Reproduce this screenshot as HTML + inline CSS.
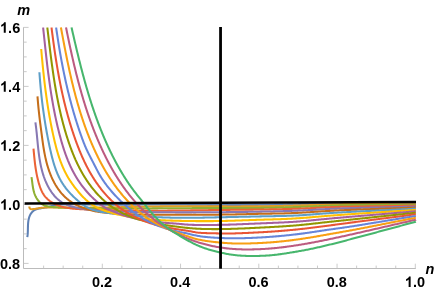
<!DOCTYPE html>
<html><head><meta charset="utf-8"><title>plot</title>
<style>
html,body{margin:0;padding:0;background:#fff;}
body{width:436px;height:292px;position:relative;overflow:hidden;font-family:"Liberation Sans",sans-serif;color:#000;}
</style></head><body>
<svg width="436" height="292" viewBox="0 0 436 292" style="position:absolute;left:0;top:0"><defs><clipPath id="c"><rect x="20" y="27.2" width="400" height="241.3"/></clipPath></defs><g stroke="#bbbbbb" stroke-width="1" fill="none" shape-rendering="auto"><path d="M23.5,27.3V268.5H415.8"/><path stroke-width="0.85" stroke="#c2c2c2" d="M43.61,268.5v-2.9M63.17,268.5v-2.9M82.74,268.5v-2.9M102.30,268.5v-4.8M121.86,268.5v-2.9M141.43,268.5v-2.9M160.99,268.5v-2.9M180.55,268.5v-4.8M200.11,268.5v-2.9M219.68,268.5v-2.9M239.24,268.5v-2.9M258.80,268.5v-4.8M278.36,268.5v-2.9M297.93,268.5v-2.9M317.49,268.5v-2.9M337.05,268.5v-4.8M356.61,268.5v-2.9M376.18,268.5v-2.9M395.74,268.5v-2.9M415.30,268.5v-4.8M23.5,263.40h5.1M23.5,248.65h3.1999999999999997M23.5,233.90h3.1999999999999997M23.5,219.15h3.1999999999999997M23.5,204.40h5.1M23.5,189.65h3.1999999999999997M23.5,174.90h3.1999999999999997M23.5,160.15h3.1999999999999997M23.5,145.40h5.1M23.5,130.65h3.1999999999999997M23.5,115.90h3.1999999999999997M23.5,101.15h3.1999999999999997M23.5,86.40h5.1M23.5,71.65h3.1999999999999997M23.5,56.90h3.1999999999999997M23.5,42.15h3.1999999999999997M23.5,27.40h5.1"/></g><g fill="none" stroke-width="2.05" stroke-linejoin="round" stroke-linecap="butt" clip-path="url(#c)"><path stroke="#5E81B5" d="M27.30,237.10 L27.47,236.11 L27.59,235.12 L27.69,234.13 L27.76,233.13 L27.81,232.13 L27.84,231.13 L27.87,230.13 L27.89,229.13 L27.91,228.13 L27.93,227.13 L27.96,226.13 L28.00,225.13 L28.05,224.13 L28.12,223.14 L28.22,222.14 L28.34,221.15 L28.49,220.16 L28.68,219.18 L28.92,218.21 L29.20,217.25 L29.53,216.31 L29.93,215.39 L30.38,214.50 L30.90,213.64 L31.48,212.83 L32.12,212.06 L32.83,211.35 L33.60,210.72 L34.43,210.16 L35.31,209.70 L36.24,209.32 L37.19,209.01 L38.16,208.76 L39.14,208.55 L40.12,208.38 L41.11,208.23 L42.10,208.08 L43.09,207.94 L44.08,207.78 L45.06,207.60 L46.04,207.40 L47.01,207.17 L47.98,206.93 L48.95,206.69 L49.92,206.44 L50.89,206.20 L51.87,205.97 L52.84,205.75 L53.82,205.56 L54.81,205.38 L55.79,205.22 L56.78,205.07 L57.77,204.94 L58.77,204.82 L59.76,204.71 L60.76,204.62 L61.75,204.54 L62.75,204.47 L63.75,204.41 L64.75,204.36 L65.75,204.32 L66.75,204.28 L67.75,204.26 L68.75,204.24 L69.75,204.23 L70.75,204.23 L71.75,204.22 L72.75,204.23 L73.75,204.24 L74.75,204.25 L75.75,204.26 L76.75,204.28 L77.75,204.30 L78.75,204.32 L79.75,204.33 L80.75,204.35 L81.74,204.37 L82.74,204.39 L83.74,204.41 L84.74,204.42 L85.74,204.44 L86.74,204.45 L87.74,204.47 L88.74,204.48 L89.74,204.50 L90.74,204.51 L91.74,204.52 L92.74,204.53 L93.74,204.55 L94.74,204.56 L95.74,204.57 L96.74,204.58 L97.74,204.59 L98.74,204.60 L99.74,204.61 L100.74,204.62 L101.74,204.62 L102.74,204.63 L103.74,204.64 L104.74,204.64 L105.74,204.65 L106.74,204.66 L107.74,204.66 L108.74,204.67 L109.74,204.67 L110.74,204.67 L111.74,204.68 L112.74,204.68 L113.74,204.68 L114.74,204.68 L115.74,204.69 L116.74,204.69 L117.74,204.69 L118.74,204.69 L119.74,204.69 L120.74,204.69 L121.74,204.69 L122.74,204.69 L123.74,204.68 L124.74,204.68 L125.74,204.68 L126.74,204.68 L127.74,204.67 L128.74,204.67 L129.74,204.66 L130.74,204.66 L131.74,204.65 L132.74,204.65 L133.74,204.64 L134.74,204.64 L135.74,204.63 L136.74,204.63 L137.74,204.62 L138.74,204.61 L139.74,204.61 L140.74,204.60 L141.74,204.59 L142.74,204.58 L143.74,204.58 L144.74,204.57 L145.74,204.56 L146.74,204.56 L147.74,204.55 L148.74,204.54 L149.74,204.54 L150.74,204.53 L151.74,204.52 L152.74,204.52 L153.74,204.51 L154.74,204.50 L155.74,204.50 L156.74,204.49 L157.74,204.49 L158.74,204.48 L159.74,204.48 L160.74,204.47 L161.74,204.47 L162.74,204.47 L163.74,204.47 L164.74,204.46 L165.74,204.46 L166.74,204.46 L167.74,204.46 L168.74,204.46 L169.74,204.46 L170.74,204.46 L171.74,204.47 L172.74,204.47 L173.74,204.47 L174.74,204.48 L175.74,204.48 L176.74,204.49 L177.74,204.50 L178.74,204.50 L179.74,204.51 L180.74,204.52 L181.74,204.53 L182.74,204.55 L183.74,204.56 L184.74,204.57 L185.74,204.58 L186.74,204.60 L187.74,204.61 L188.74,204.63 L189.74,204.64 L190.74,204.66 L191.74,204.67 L192.74,204.68 L193.74,204.70 L194.74,204.71 L195.74,204.72 L196.74,204.74 L197.74,204.75 L198.74,204.76 L199.74,204.77 L200.74,204.78 L201.74,204.80 L202.74,204.81 L203.74,204.82 L204.74,204.83 L205.74,204.84 L206.74,204.85 L207.74,204.86 L208.74,204.86 L209.74,204.87 L210.74,204.88 L211.74,204.89 L212.74,204.90 L213.74,204.90 L214.74,204.91 L215.74,204.92 L216.74,204.92 L217.74,204.93 L218.74,204.94 L219.74,204.94 L220.74,204.95 L221.74,204.95 L222.74,204.95 L223.74,204.96 L224.74,204.96 L225.74,204.97 L226.74,204.97 L227.74,204.97 L228.74,204.97 L229.74,204.97 L230.74,204.98 L231.74,204.98 L232.74,204.98 L233.74,204.98 L234.74,204.98 L235.74,204.98 L236.74,204.98 L237.74,204.97 L238.74,204.97 L239.74,204.97 L240.74,204.97 L241.74,204.97 L242.74,204.96 L243.74,204.96 L244.74,204.95 L245.74,204.95 L246.74,204.95 L247.74,204.94 L248.74,204.93 L249.74,204.93 L250.74,204.92 L251.74,204.91 L252.74,204.91 L253.74,204.90 L254.74,204.89 L255.74,204.88 L256.74,204.87 L257.74,204.86 L258.74,204.85 L259.74,204.84 L260.74,204.83 L261.74,204.82 L262.74,204.81 L263.74,204.80 L264.74,204.79 L265.74,204.77 L266.74,204.76 L267.74,204.75 L268.74,204.73 L269.74,204.72 L270.74,204.70 L271.74,204.69 L272.74,204.67 L273.74,204.65 L274.74,204.64 L275.74,204.62 L276.74,204.60 L277.74,204.58 L278.74,204.57 L279.74,204.55 L280.74,204.53 L281.74,204.51 L282.74,204.49 L283.74,204.47 L284.74,204.45 L285.74,204.43 L286.74,204.41 L287.74,204.39 L288.74,204.37 L289.73,204.35 L290.73,204.32 L291.73,204.30 L292.73,204.28 L293.73,204.26 L294.73,204.24 L295.73,204.21 L296.73,204.19 L297.73,204.17 L298.73,204.14 L299.73,204.12 L300.73,204.10 L301.73,204.07 L302.73,204.05 L303.73,204.03 L304.73,204.00 L305.73,203.98 L306.73,203.95 L307.73,203.93 L308.73,203.91 L309.73,203.88 L310.73,203.86 L311.73,203.83 L312.73,203.81 L313.73,203.78 L314.73,203.76 L315.73,203.74 L316.73,203.71 L317.73,203.69 L318.73,203.67 L319.73,203.64 L320.73,203.62 L321.73,203.60 L322.73,203.57 L323.73,203.55 L324.73,203.53 L325.73,203.51 L326.72,203.49 L327.72,203.47 L328.72,203.45 L329.72,203.43 L330.72,203.41 L331.72,203.39 L332.72,203.37 L333.72,203.35 L334.72,203.33 L335.72,203.32 L336.72,203.30 L337.72,203.29 L338.72,203.27 L339.72,203.26 L340.72,203.24 L341.72,203.23 L342.72,203.22 L343.72,203.21 L344.72,203.20 L345.72,203.19 L346.72,203.18 L347.72,203.17 L348.72,203.16 L349.72,203.16 L350.72,203.15 L351.72,203.15 L352.72,203.14 L353.72,203.14 L354.72,203.14 L355.72,203.14 L356.72,203.14 L357.72,203.14 L358.72,203.14 L359.72,203.15 L360.72,203.15 L361.72,203.15 L362.72,203.16 L363.72,203.17 L364.72,203.18 L365.72,203.18 L366.72,203.19 L367.72,203.20 L368.72,203.21 L369.72,203.23 L370.72,203.24 L371.72,203.25 L372.72,203.26 L373.72,203.27 L374.72,203.29 L375.72,203.30 L376.72,203.31 L377.72,203.32 L378.72,203.34 L379.72,203.35 L380.72,203.36 L381.72,203.37 L382.72,203.38 L383.72,203.39 L384.72,203.40 L385.72,203.41 L386.72,203.41 L387.72,203.42 L388.72,203.43 L389.72,203.43 L390.72,203.44 L391.72,203.45 L392.72,203.45 L393.72,203.46 L394.72,203.46 L395.72,203.47 L396.72,203.48 L397.72,203.48 L398.72,203.49 L399.72,203.49 L400.72,203.50 L401.72,203.50 L402.72,203.51 L403.72,203.52 L404.72,203.52 L405.72,203.53 L406.72,203.54 L407.72,203.54 L408.72,203.55 L409.72,203.56 L410.72,203.57 L411.72,203.58 L412.72,203.59 L413.72,203.60 L414.72,203.61 L415.72,203.62 L415.85,203.63"/><path stroke="#E19C24" d="M29.40,206.50 L29.40,207.49 L29.78,208.41 L30.55,209.02 L31.54,209.17 L32.54,209.13 L33.53,209.05 L34.53,208.93 L35.52,208.79 L36.50,208.62 L37.49,208.45 L38.47,208.27 L39.46,208.11 L40.45,207.96 L41.44,207.83 L42.43,207.73 L43.43,207.65 L44.43,207.60 L45.43,207.55 L46.43,207.53 L47.43,207.51 L48.43,207.51 L49.43,207.51 L50.43,207.52 L51.43,207.53 L52.43,207.54 L53.43,207.56 L54.43,207.57 L55.43,207.58 L56.43,207.59 L57.43,207.60 L58.43,207.61 L59.43,207.62 L60.43,207.63 L61.43,207.64 L62.43,207.65 L63.43,207.66 L64.43,207.67 L65.43,207.68 L66.43,207.69 L67.43,207.69 L68.43,207.70 L69.43,207.71 L70.43,207.71 L71.43,207.71 L72.43,207.72 L73.43,207.72 L74.43,207.72 L75.43,207.72 L76.43,207.72 L77.43,207.72 L78.43,207.72 L79.43,207.71 L80.43,207.71 L81.43,207.71 L82.43,207.70 L83.43,207.70 L84.43,207.69 L85.43,207.68 L86.43,207.68 L87.43,207.67 L88.43,207.66 L89.43,207.65 L90.43,207.64 L91.43,207.63 L92.43,207.62 L93.43,207.61 L94.43,207.60 L95.43,207.59 L96.43,207.57 L97.43,207.56 L98.43,207.55 L99.43,207.53 L100.43,207.52 L101.43,207.50 L102.43,207.49 L103.43,207.47 L104.43,207.46 L105.43,207.44 L106.43,207.42 L107.42,207.41 L108.42,207.39 L109.42,207.37 L110.42,207.35 L111.42,207.33 L112.42,207.32 L113.42,207.30 L114.42,207.28 L115.42,207.26 L116.42,207.24 L117.42,207.22 L118.42,207.20 L119.42,207.18 L120.42,207.16 L121.42,207.14 L122.42,207.12 L123.42,207.10 L124.42,207.08 L125.42,207.06 L126.42,207.04 L127.42,207.02 L128.42,206.99 L129.42,206.97 L130.42,206.95 L131.42,206.93 L132.42,206.91 L133.42,206.89 L134.42,206.87 L135.42,206.85 L136.42,206.83 L137.42,206.81 L138.42,206.79 L139.42,206.77 L140.42,206.75 L141.42,206.73 L142.42,206.71 L143.42,206.69 L144.42,206.67 L145.42,206.65 L146.42,206.63 L147.42,206.61 L148.42,206.59 L149.42,206.57 L150.42,206.55 L151.42,206.54 L152.42,206.52 L153.42,206.50 L154.42,206.48 L155.42,206.47 L156.42,206.45 L157.42,206.44 L158.42,206.42 L159.42,206.40 L160.42,206.39 L161.42,206.38 L162.41,206.36 L163.41,206.35 L164.41,206.34 L165.41,206.32 L166.41,206.31 L167.41,206.30 L168.41,206.29 L169.41,206.28 L170.41,206.27 L171.41,206.26 L172.41,206.25 L173.41,206.24 L174.41,206.24 L175.41,206.23 L176.41,206.22 L177.41,206.22 L178.41,206.21 L179.41,206.21 L180.41,206.21 L181.41,206.20 L182.41,206.20 L183.41,206.20 L184.41,206.20 L185.41,206.20 L186.41,206.20 L187.41,206.20 L188.41,206.20 L189.41,206.21 L190.41,206.21 L191.41,206.21 L192.41,206.22 L193.41,206.22 L194.41,206.23 L195.41,206.24 L196.41,206.24 L197.41,206.25 L198.41,206.26 L199.41,206.26 L200.41,206.27 L201.41,206.28 L202.41,206.28 L203.41,206.29 L204.41,206.29 L205.41,206.30 L206.41,206.31 L207.41,206.31 L208.41,206.32 L209.41,206.32 L210.41,206.33 L211.41,206.34 L212.41,206.34 L213.41,206.35 L214.41,206.35 L215.41,206.36 L216.41,206.36 L217.41,206.36 L218.41,206.37 L219.41,206.37 L220.41,206.38 L221.41,206.38 L222.41,206.38 L223.41,206.39 L224.41,206.39 L225.41,206.39 L226.41,206.39 L227.41,206.40 L228.41,206.40 L229.41,206.40 L230.41,206.40 L231.41,206.40 L232.41,206.40 L233.41,206.40 L234.41,206.40 L235.41,206.40 L236.41,206.40 L237.41,206.40 L238.41,206.40 L239.41,206.40 L240.41,206.40 L241.41,206.39 L242.41,206.39 L243.41,206.39 L244.41,206.38 L245.41,206.38 L246.41,206.38 L247.41,206.37 L248.41,206.37 L249.41,206.36 L250.41,206.35 L251.41,206.35 L252.41,206.34 L253.41,206.33 L254.41,206.33 L255.41,206.32 L256.41,206.31 L257.41,206.30 L258.41,206.29 L259.41,206.28 L260.41,206.27 L261.41,206.26 L262.41,206.25 L263.41,206.23 L264.41,206.22 L265.41,206.21 L266.41,206.20 L267.41,206.18 L268.41,206.17 L269.41,206.15 L270.41,206.14 L271.41,206.12 L272.41,206.10 L273.41,206.08 L274.41,206.07 L275.41,206.05 L276.41,206.03 L277.41,206.01 L278.41,205.99 L279.41,205.97 L280.41,205.94 L281.41,205.92 L282.41,205.90 L283.41,205.88 L284.41,205.85 L285.41,205.83 L286.41,205.80 L287.41,205.78 L288.41,205.75 L289.41,205.73 L290.41,205.70 L291.41,205.67 L292.41,205.65 L293.41,205.62 L294.41,205.59 L295.41,205.56 L296.41,205.53 L297.40,205.50 L298.40,205.47 L299.40,205.44 L300.40,205.41 L301.40,205.38 L302.40,205.35 L303.40,205.32 L304.40,205.29 L305.40,205.26 L306.40,205.22 L307.40,205.19 L308.40,205.16 L309.40,205.12 L310.40,205.09 L311.40,205.06 L312.40,205.02 L313.40,204.99 L314.40,204.96 L315.40,204.92 L316.39,204.89 L317.39,204.85 L318.39,204.82 L319.39,204.79 L320.39,204.75 L321.39,204.72 L322.39,204.69 L323.39,204.65 L324.39,204.62 L325.39,204.59 L326.39,204.56 L327.39,204.53 L328.39,204.50 L329.39,204.47 L330.39,204.44 L331.39,204.41 L332.39,204.38 L333.39,204.36 L334.39,204.33 L335.39,204.30 L336.39,204.28 L337.39,204.26 L338.38,204.24 L339.38,204.22 L340.38,204.20 L341.38,204.18 L342.38,204.16 L343.38,204.14 L344.38,204.13 L345.38,204.12 L346.38,204.11 L347.38,204.09 L348.38,204.09 L349.38,204.08 L350.38,204.07 L351.38,204.07 L352.38,204.06 L353.38,204.06 L354.38,204.06 L355.38,204.06 L356.38,204.05 L357.38,204.05 L358.38,204.06 L359.38,204.06 L360.38,204.06 L361.38,204.06 L362.38,204.06 L363.38,204.07 L364.38,204.07 L365.38,204.07 L366.38,204.08 L367.38,204.08 L368.38,204.08 L369.38,204.09 L370.38,204.09 L371.38,204.09 L372.38,204.10 L373.38,204.10 L374.38,204.10 L375.38,204.11 L376.38,204.11 L377.38,204.11 L378.38,204.12 L379.38,204.12 L380.38,204.12 L381.38,204.13 L382.38,204.13 L383.38,204.13 L384.38,204.13 L385.38,204.14 L386.38,204.14 L387.38,204.14 L388.38,204.14 L389.38,204.15 L390.38,204.15 L391.38,204.15 L392.38,204.15 L393.38,204.15 L394.38,204.16 L395.38,204.16 L396.38,204.16 L397.38,204.16 L398.38,204.16 L399.38,204.16 L400.38,204.17 L401.38,204.17 L402.38,204.17 L403.38,204.17 L404.38,204.17 L405.38,204.18 L406.38,204.18 L407.38,204.18 L408.38,204.18 L409.38,204.19 L410.38,204.19 L411.38,204.19 L412.38,204.19 L413.38,204.20 L414.38,204.20 L415.38,204.20 L415.85,204.20"/><path stroke="#8FB032" d="M31.50,177.10 L31.66,178.09 L31.81,179.08 L31.94,180.07 L32.07,181.06 L32.20,182.05 L32.33,183.04 L32.46,184.03 L32.59,185.02 L32.74,186.01 L32.89,187.00 L33.06,187.99 L33.25,188.97 L33.46,189.95 L33.69,190.92 L33.94,191.89 L34.23,192.85 L34.54,193.79 L34.89,194.73 L35.28,195.66 L35.70,196.56 L36.15,197.45 L36.65,198.32 L37.18,199.17 L37.75,199.99 L38.36,200.78 L39.00,201.55 L39.70,202.27 L40.43,202.94 L41.21,203.57 L42.04,204.13 L42.90,204.64 L43.79,205.09 L44.71,205.48 L45.65,205.82 L46.61,206.11 L47.58,206.35 L48.56,206.56 L49.55,206.72 L50.54,206.86 L51.53,206.97 L52.53,207.06 L53.52,207.14 L54.52,207.20 L55.52,207.25 L56.52,207.29 L57.52,207.33 L58.52,207.37 L59.52,207.41 L60.52,207.45 L61.51,207.49 L62.51,207.53 L63.51,207.57 L64.51,207.60 L65.51,207.64 L66.51,207.67 L67.51,207.71 L68.51,207.74 L69.51,207.77 L70.51,207.80 L71.51,207.83 L72.51,207.86 L73.51,207.89 L74.51,207.92 L75.51,207.94 L76.51,207.97 L77.51,208.00 L78.51,208.02 L79.51,208.05 L80.51,208.07 L81.51,208.09 L82.51,208.11 L83.51,208.13 L84.50,208.16 L85.50,208.18 L86.50,208.19 L87.50,208.21 L88.50,208.23 L89.50,208.25 L90.50,208.26 L91.50,208.28 L92.50,208.30 L93.50,208.31 L94.50,208.32 L95.50,208.34 L96.50,208.35 L97.50,208.36 L98.50,208.37 L99.50,208.39 L100.50,208.40 L101.50,208.41 L102.50,208.42 L103.50,208.42 L104.50,208.43 L105.50,208.44 L106.50,208.45 L107.50,208.45 L108.50,208.46 L109.50,208.47 L110.50,208.47 L111.50,208.48 L112.50,208.48 L113.50,208.49 L114.50,208.49 L115.50,208.49 L116.50,208.50 L117.50,208.50 L118.50,208.50 L119.50,208.50 L120.50,208.50 L121.50,208.50 L122.50,208.50 L123.50,208.50 L124.50,208.50 L125.50,208.50 L126.50,208.50 L127.50,208.50 L128.50,208.50 L129.50,208.50 L130.50,208.50 L131.50,208.49 L132.50,208.49 L133.50,208.49 L134.50,208.48 L135.50,208.48 L136.50,208.48 L137.50,208.47 L138.50,208.47 L139.50,208.46 L140.50,208.46 L141.50,208.45 L142.50,208.45 L143.50,208.44 L144.50,208.44 L145.50,208.43 L146.50,208.43 L147.50,208.42 L148.50,208.42 L149.50,208.41 L150.50,208.40 L151.50,208.40 L152.50,208.39 L153.50,208.38 L154.50,208.38 L155.50,208.37 L156.50,208.36 L157.50,208.36 L158.50,208.35 L159.50,208.34 L160.50,208.33 L161.50,208.33 L162.50,208.32 L163.50,208.31 L164.50,208.31 L165.50,208.30 L166.50,208.29 L167.50,208.28 L168.50,208.28 L169.50,208.27 L170.50,208.26 L171.50,208.26 L172.50,208.25 L173.50,208.24 L174.50,208.24 L175.50,208.23 L176.50,208.22 L177.50,208.22 L178.50,208.21 L179.50,208.21 L180.50,208.20 L181.50,208.19 L182.50,208.19 L183.50,208.18 L184.50,208.18 L185.50,208.17 L186.50,208.17 L187.50,208.16 L188.50,208.16 L189.50,208.15 L190.50,208.15 L191.50,208.15 L192.50,208.14 L193.50,208.14 L194.50,208.14 L195.50,208.13 L196.50,208.13 L197.50,208.13 L198.50,208.13 L199.50,208.13 L200.50,208.12 L201.50,208.12 L202.50,208.12 L203.50,208.12 L204.50,208.12 L205.50,208.12 L206.50,208.12 L207.50,208.12 L208.50,208.12 L209.50,208.12 L210.50,208.12 L211.50,208.12 L212.50,208.11 L213.50,208.11 L214.50,208.11 L215.50,208.11 L216.50,208.11 L217.50,208.11 L218.50,208.11 L219.50,208.11 L220.50,208.11 L221.50,208.11 L222.50,208.11 L223.50,208.11 L224.50,208.11 L225.50,208.11 L226.50,208.11 L227.50,208.11 L228.50,208.11 L229.50,208.11 L230.50,208.10 L231.50,208.10 L232.50,208.10 L233.50,208.10 L234.50,208.10 L235.50,208.09 L236.50,208.09 L237.50,208.09 L238.50,208.08 L239.50,208.08 L240.50,208.08 L241.50,208.07 L242.50,208.07 L243.50,208.06 L244.50,208.06 L245.50,208.05 L246.50,208.04 L247.50,208.04 L248.50,208.03 L249.50,208.02 L250.50,208.01 L251.50,208.01 L252.50,208.00 L253.50,207.99 L254.50,207.98 L255.50,207.97 L256.50,207.96 L257.50,207.95 L258.50,207.93 L259.50,207.92 L260.50,207.91 L261.50,207.89 L262.50,207.88 L263.50,207.87 L264.50,207.85 L265.50,207.83 L266.50,207.82 L267.50,207.80 L268.50,207.78 L269.50,207.76 L270.50,207.74 L271.50,207.72 L272.50,207.70 L273.50,207.68 L274.50,207.66 L275.50,207.64 L276.50,207.61 L277.50,207.59 L278.50,207.57 L279.50,207.54 L280.50,207.51 L281.50,207.49 L282.50,207.46 L283.50,207.43 L284.50,207.40 L285.49,207.38 L286.49,207.35 L287.49,207.32 L288.49,207.29 L289.49,207.25 L290.49,207.22 L291.49,207.19 L292.49,207.16 L293.49,207.13 L294.49,207.09 L295.49,207.06 L296.49,207.02 L297.49,206.99 L298.49,206.95 L299.49,206.92 L300.49,206.88 L301.49,206.84 L302.49,206.80 L303.48,206.77 L304.48,206.73 L305.48,206.69 L306.48,206.65 L307.48,206.61 L308.48,206.57 L309.48,206.53 L310.48,206.49 L311.48,206.45 L312.48,206.41 L313.48,206.37 L314.48,206.32 L315.47,206.28 L316.47,206.24 L317.47,206.20 L318.47,206.16 L319.47,206.11 L320.47,206.07 L321.47,206.03 L322.47,205.99 L323.47,205.95 L324.47,205.91 L325.47,205.87 L326.47,205.83 L327.46,205.79 L328.46,205.75 L329.46,205.71 L330.46,205.67 L331.46,205.64 L332.46,205.60 L333.46,205.56 L334.46,205.53 L335.46,205.50 L336.46,205.46 L337.46,205.43 L338.46,205.40 L339.46,205.37 L340.46,205.34 L341.46,205.32 L342.46,205.29 L343.46,205.27 L344.46,205.24 L345.46,205.22 L346.46,205.20 L347.45,205.18 L348.45,205.17 L349.45,205.15 L350.45,205.14 L351.45,205.12 L352.45,205.11 L353.45,205.10 L354.45,205.09 L355.45,205.08 L356.45,205.07 L357.45,205.07 L358.45,205.06 L359.45,205.06 L360.45,205.05 L361.45,205.05 L362.45,205.05 L363.45,205.04 L364.45,205.04 L365.45,205.04 L366.45,205.04 L367.45,205.04 L368.45,205.04 L369.45,205.04 L370.45,205.04 L371.45,205.04 L372.45,205.04 L373.45,205.04 L374.45,205.04 L375.45,205.04 L376.45,205.04 L377.45,205.04 L378.45,205.04 L379.45,205.04 L380.45,205.03 L381.45,205.03 L382.45,205.03 L383.45,205.03 L384.45,205.02 L385.45,205.02 L386.45,205.02 L387.45,205.01 L388.45,205.01 L389.45,205.00 L390.45,205.00 L391.45,204.99 L392.45,204.98 L393.45,204.98 L394.45,204.97 L395.45,204.97 L396.45,204.96 L397.45,204.96 L398.45,204.95 L399.45,204.94 L400.45,204.94 L401.45,204.93 L402.45,204.93 L403.45,204.92 L404.45,204.92 L405.45,204.91 L406.45,204.91 L407.45,204.91 L408.45,204.90 L409.45,204.90 L410.45,204.90 L411.45,204.90 L412.45,204.90 L413.45,204.90 L414.45,204.90 L415.45,204.90 L415.85,204.90"/><path stroke="#EB6235" d="M33.50,148.60 L33.59,149.60 L33.68,150.59 L33.77,151.59 L33.87,152.58 L33.96,153.58 L34.05,154.57 L34.15,155.57 L34.24,156.57 L34.34,157.56 L34.45,158.56 L34.55,159.55 L34.66,160.54 L34.77,161.54 L34.88,162.53 L35.00,163.52 L35.13,164.52 L35.26,165.51 L35.39,166.50 L35.53,167.49 L35.68,168.48 L35.83,169.47 L35.99,170.45 L36.16,171.44 L36.33,172.42 L36.51,173.41 L36.70,174.39 L36.90,175.37 L37.11,176.35 L37.32,177.32 L37.55,178.30 L37.78,179.27 L38.03,180.24 L38.28,181.21 L38.54,182.17 L38.81,183.14 L39.10,184.09 L39.39,185.05 L39.70,186.00 L40.02,186.95 L40.36,187.89 L40.72,188.82 L41.10,189.75 L41.51,190.66 L41.94,191.56 L42.39,192.45 L42.88,193.33 L43.40,194.18 L43.95,195.02 L44.53,195.83 L45.15,196.61 L45.81,197.37 L46.49,198.10 L47.21,198.80 L47.95,199.47 L48.71,200.11 L49.50,200.73 L50.31,201.31 L51.14,201.87 L51.99,202.41 L52.85,202.91 L53.72,203.39 L54.61,203.85 L55.51,204.28 L56.43,204.69 L57.35,205.08 L58.28,205.44 L59.22,205.78 L60.17,206.10 L61.13,206.40 L62.09,206.67 L63.05,206.93 L64.02,207.17 L65.00,207.39 L65.98,207.59 L66.96,207.78 L67.95,207.95 L68.93,208.11 L69.92,208.25 L70.91,208.39 L71.91,208.50 L72.90,208.61 L73.90,208.71 L74.89,208.80 L75.89,208.88 L76.89,208.95 L77.88,209.02 L78.88,209.08 L79.88,209.13 L80.88,209.19 L81.88,209.23 L82.88,209.28 L83.88,209.32 L84.88,209.36 L85.87,209.40 L86.87,209.44 L87.87,209.48 L88.87,209.51 L89.87,209.55 L90.87,209.59 L91.87,209.63 L92.87,209.66 L93.87,209.70 L94.87,209.73 L95.87,209.77 L96.87,209.80 L97.87,209.83 L98.87,209.87 L99.87,209.90 L100.87,209.93 L101.86,209.96 L102.86,209.99 L103.86,210.02 L104.86,210.05 L105.86,210.08 L106.86,210.11 L107.86,210.14 L108.86,210.17 L109.86,210.19 L110.86,210.22 L111.86,210.24 L112.86,210.27 L113.86,210.29 L114.86,210.32 L115.86,210.34 L116.86,210.36 L117.86,210.38 L118.86,210.40 L119.86,210.42 L120.86,210.44 L121.86,210.46 L122.86,210.48 L123.86,210.50 L124.86,210.52 L125.86,210.53 L126.86,210.55 L127.86,210.57 L128.86,210.58 L129.86,210.59 L130.86,210.61 L131.86,210.62 L132.86,210.63 L133.86,210.64 L134.86,210.65 L135.86,210.66 L136.86,210.67 L137.86,210.68 L138.86,210.69 L139.86,210.69 L140.86,210.70 L141.86,210.71 L142.86,210.71 L143.86,210.71 L144.86,210.72 L145.86,210.72 L146.86,210.72 L147.86,210.72 L148.86,210.73 L149.86,210.73 L150.86,210.73 L151.86,210.73 L152.86,210.72 L153.86,210.72 L154.86,210.72 L155.86,210.72 L156.86,210.71 L157.86,210.71 L158.86,210.70 L159.86,210.70 L160.86,210.69 L161.86,210.69 L162.86,210.68 L163.86,210.68 L164.86,210.67 L165.86,210.66 L166.86,210.65 L167.86,210.64 L168.86,210.64 L169.86,210.63 L170.86,210.62 L171.86,210.61 L172.86,210.60 L173.86,210.59 L174.86,210.58 L175.86,210.57 L176.86,210.56 L177.86,210.54 L178.86,210.53 L179.86,210.52 L180.86,210.51 L181.86,210.50 L182.86,210.49 L183.86,210.47 L184.86,210.46 L185.86,210.45 L186.86,210.43 L187.86,210.42 L188.86,210.41 L189.86,210.40 L190.85,210.38 L191.85,210.37 L192.85,210.36 L193.85,210.34 L194.85,210.33 L195.85,210.31 L196.85,210.30 L197.85,210.29 L198.85,210.27 L199.85,210.26 L200.85,210.25 L201.85,210.23 L202.85,210.22 L203.85,210.21 L204.85,210.19 L205.85,210.18 L206.85,210.16 L207.85,210.15 L208.85,210.14 L209.85,210.12 L210.85,210.11 L211.85,210.10 L212.85,210.08 L213.85,210.07 L214.85,210.06 L215.85,210.04 L216.85,210.03 L217.85,210.02 L218.85,210.00 L219.85,209.99 L220.85,209.98 L221.85,209.97 L222.85,209.95 L223.85,209.94 L224.85,209.93 L225.85,209.91 L226.85,209.90 L227.85,209.89 L228.85,209.88 L229.85,209.87 L230.85,209.85 L231.85,209.84 L232.85,209.83 L233.85,209.82 L234.85,209.81 L235.85,209.80 L236.85,209.79 L237.85,209.78 L238.85,209.76 L239.85,209.75 L240.85,209.74 L241.85,209.73 L242.85,209.72 L243.85,209.71 L244.85,209.70 L245.85,209.69 L246.85,209.68 L247.85,209.67 L248.85,209.66 L249.85,209.64 L250.85,209.63 L251.85,209.62 L252.85,209.61 L253.85,209.60 L254.85,209.59 L255.85,209.58 L256.85,209.56 L257.85,209.55 L258.85,209.54 L259.85,209.53 L260.85,209.51 L261.85,209.50 L262.85,209.49 L263.85,209.47 L264.85,209.46 L265.85,209.44 L266.85,209.43 L267.85,209.41 L268.85,209.40 L269.85,209.38 L270.85,209.36 L271.85,209.35 L272.85,209.33 L273.85,209.31 L274.85,209.29 L275.85,209.27 L276.85,209.25 L277.85,209.23 L278.85,209.21 L279.85,209.19 L280.85,209.17 L281.85,209.15 L282.85,209.12 L283.85,209.10 L284.85,209.08 L285.85,209.05 L286.84,209.02 L287.84,209.00 L288.84,208.97 L289.84,208.94 L290.84,208.91 L291.84,208.88 L292.84,208.85 L293.84,208.82 L294.84,208.79 L295.84,208.75 L296.84,208.72 L297.84,208.68 L298.84,208.65 L299.84,208.61 L300.84,208.57 L301.84,208.53 L302.84,208.49 L303.83,208.45 L304.83,208.40 L305.83,208.36 L306.83,208.32 L307.83,208.27 L308.83,208.22 L309.83,208.17 L310.83,208.12 L311.83,208.07 L312.82,208.02 L313.82,207.97 L314.82,207.91 L315.82,207.86 L316.82,207.81 L317.82,207.75 L318.82,207.70 L319.81,207.65 L320.81,207.59 L321.81,207.54 L322.81,207.49 L323.81,207.44 L324.81,207.39 L325.81,207.34 L326.81,207.30 L327.80,207.25 L328.80,207.21 L329.80,207.17 L330.80,207.13 L331.80,207.10 L332.80,207.06 L333.80,207.03 L334.80,207.00 L335.80,206.97 L336.80,206.94 L337.80,206.92 L338.80,206.89 L339.80,206.87 L340.80,206.85 L341.80,206.83 L342.80,206.80 L343.80,206.78 L344.80,206.76 L345.80,206.75 L346.80,206.73 L347.80,206.71 L348.80,206.69 L349.80,206.67 L350.80,206.65 L351.80,206.64 L352.80,206.62 L353.80,206.60 L354.80,206.58 L355.80,206.57 L356.80,206.55 L357.80,206.53 L358.80,206.52 L359.80,206.50 L360.80,206.49 L361.79,206.47 L362.79,206.45 L363.79,206.44 L364.79,206.42 L365.79,206.41 L366.79,206.39 L367.79,206.38 L368.79,206.36 L369.79,206.35 L370.79,206.33 L371.79,206.32 L372.79,206.30 L373.79,206.29 L374.79,206.28 L375.79,206.26 L376.79,206.25 L377.79,206.23 L378.79,206.22 L379.79,206.20 L380.79,206.19 L381.79,206.18 L382.79,206.16 L383.79,206.15 L384.79,206.14 L385.79,206.12 L386.79,206.11 L387.79,206.09 L388.79,206.08 L389.79,206.07 L390.79,206.05 L391.79,206.04 L392.79,206.02 L393.79,206.01 L394.79,206.00 L395.79,205.98 L396.79,205.97 L397.79,205.95 L398.79,205.94 L399.79,205.92 L400.79,205.91 L401.79,205.89 L402.79,205.88 L403.79,205.87 L404.79,205.85 L405.79,205.84 L406.79,205.82 L407.79,205.81 L408.79,205.79 L409.79,205.77 L410.79,205.76 L411.79,205.74 L412.79,205.73 L413.79,205.71 L414.79,205.69 L415.79,205.68 L415.85,205.68"/><path stroke="#8778B3" d="M35.40,122.30 L35.54,123.29 L35.67,124.28 L35.80,125.27 L35.93,126.27 L36.05,127.26 L36.16,128.25 L36.28,129.25 L36.39,130.24 L36.49,131.23 L36.60,132.23 L36.70,133.22 L36.80,134.22 L36.90,135.21 L36.99,136.21 L37.09,137.20 L37.18,138.20 L37.28,139.19 L37.37,140.19 L37.47,141.19 L37.57,142.18 L37.66,143.18 L37.76,144.17 L37.86,145.17 L37.96,146.16 L38.07,147.16 L38.17,148.15 L38.28,149.14 L38.39,150.14 L38.51,151.13 L38.63,152.12 L38.75,153.12 L38.88,154.11 L39.02,155.10 L39.15,156.09 L39.30,157.08 L39.45,158.07 L39.60,159.06 L39.76,160.04 L39.93,161.03 L40.11,162.01 L40.29,163.00 L40.48,163.98 L40.68,164.96 L40.89,165.94 L41.10,166.91 L41.33,167.89 L41.56,168.86 L41.80,169.83 L42.06,170.80 L42.32,171.76 L42.60,172.72 L42.88,173.68 L43.18,174.64 L43.48,175.59 L43.80,176.54 L44.14,177.48 L44.48,178.42 L44.84,179.35 L45.20,180.28 L45.59,181.21 L45.98,182.12 L46.39,183.04 L46.81,183.94 L47.25,184.84 L47.70,185.74 L48.16,186.62 L48.64,187.50 L49.13,188.37 L49.64,189.23 L50.17,190.08 L50.71,190.92 L51.26,191.75 L51.84,192.57 L52.43,193.38 L53.04,194.17 L53.67,194.95 L54.31,195.72 L54.97,196.46 L55.66,197.19 L56.36,197.91 L57.08,198.60 L57.82,199.27 L58.58,199.92 L59.36,200.55 L60.16,201.15 L60.97,201.73 L61.81,202.28 L62.66,202.80 L63.53,203.29 L64.42,203.75 L65.32,204.19 L66.23,204.60 L67.16,204.98 L68.09,205.34 L69.03,205.68 L69.98,205.99 L70.94,206.29 L71.90,206.57 L72.86,206.83 L73.83,207.08 L74.80,207.32 L75.78,207.54 L76.75,207.75 L77.73,207.95 L78.71,208.15 L79.70,208.33 L80.68,208.51 L81.67,208.68 L82.65,208.85 L83.64,209.01 L84.63,209.16 L85.62,209.31 L86.61,209.45 L87.60,209.58 L88.59,209.71 L89.58,209.83 L90.57,209.95 L91.57,210.06 L92.56,210.17 L93.56,210.27 L94.55,210.36 L95.55,210.45 L96.54,210.54 L97.54,210.62 L98.54,210.70 L99.54,210.77 L100.53,210.84 L101.53,210.91 L102.53,210.97 L103.53,211.03 L104.53,211.08 L105.52,211.13 L106.52,211.18 L107.52,211.23 L108.52,211.27 L109.52,211.31 L110.52,211.35 L111.52,211.39 L112.52,211.42 L113.52,211.45 L114.52,211.49 L115.52,211.52 L116.52,211.54 L117.52,211.57 L118.52,211.60 L119.52,211.62 L120.52,211.65 L121.52,211.67 L122.52,211.69 L123.51,211.72 L124.51,211.74 L125.51,211.76 L126.51,211.78 L127.51,211.81 L128.51,211.83 L129.51,211.85 L130.51,211.87 L131.51,211.89 L132.51,211.91 L133.51,211.93 L134.51,211.94 L135.51,211.96 L136.51,211.98 L137.51,212.00 L138.51,212.01 L139.51,212.03 L140.51,212.04 L141.51,212.06 L142.51,212.07 L143.51,212.09 L144.51,212.10 L145.51,212.12 L146.51,212.13 L147.51,212.14 L148.51,212.15 L149.51,212.17 L150.51,212.18 L151.51,212.19 L152.51,212.20 L153.51,212.21 L154.51,212.22 L155.51,212.23 L156.51,212.24 L157.51,212.25 L158.51,212.26 L159.51,212.27 L160.51,212.27 L161.51,212.28 L162.51,212.29 L163.51,212.29 L164.51,212.30 L165.51,212.31 L166.51,212.31 L167.51,212.32 L168.51,212.32 L169.51,212.33 L170.51,212.33 L171.51,212.34 L172.51,212.34 L173.51,212.34 L174.51,212.35 L175.51,212.35 L176.51,212.35 L177.51,212.36 L178.51,212.36 L179.51,212.36 L180.51,212.36 L181.51,212.36 L182.51,212.36 L183.51,212.36 L184.51,212.36 L185.51,212.36 L186.51,212.36 L187.51,212.36 L188.51,212.36 L189.51,212.36 L190.51,212.36 L191.51,212.36 L192.51,212.35 L193.51,212.35 L194.51,212.35 L195.51,212.35 L196.51,212.34 L197.51,212.34 L198.51,212.34 L199.51,212.33 L200.51,212.33 L201.51,212.33 L202.51,212.32 L203.51,212.32 L204.51,212.31 L205.51,212.31 L206.51,212.30 L207.51,212.29 L208.51,212.29 L209.51,212.28 L210.51,212.28 L211.51,212.27 L212.51,212.26 L213.51,212.25 L214.51,212.25 L215.51,212.24 L216.51,212.23 L217.51,212.22 L218.51,212.21 L219.51,212.21 L220.51,212.20 L221.51,212.19 L222.51,212.18 L223.51,212.17 L224.51,212.16 L225.51,212.15 L226.51,212.14 L227.51,212.13 L228.51,212.11 L229.51,212.10 L230.51,212.09 L231.51,212.08 L232.51,212.07 L233.51,212.06 L234.51,212.04 L235.51,212.03 L236.51,212.02 L237.51,212.01 L238.51,211.99 L239.51,211.98 L240.51,211.96 L241.51,211.95 L242.51,211.94 L243.51,211.92 L244.51,211.91 L245.51,211.89 L246.51,211.88 L247.51,211.86 L248.51,211.85 L249.51,211.83 L250.51,211.81 L251.51,211.80 L252.51,211.78 L253.51,211.76 L254.51,211.75 L255.51,211.73 L256.51,211.71 L257.51,211.70 L258.51,211.68 L259.51,211.66 L260.51,211.64 L261.51,211.62 L262.51,211.60 L263.51,211.59 L264.50,211.57 L265.50,211.55 L266.50,211.53 L267.50,211.51 L268.50,211.49 L269.50,211.47 L270.50,211.45 L271.50,211.43 L272.50,211.40 L273.50,211.38 L274.50,211.36 L275.50,211.34 L276.50,211.31 L277.50,211.29 L278.50,211.27 L279.50,211.24 L280.50,211.22 L281.50,211.19 L282.50,211.16 L283.50,211.13 L284.50,211.11 L285.50,211.08 L286.50,211.05 L287.50,211.01 L288.50,210.98 L289.50,210.95 L290.50,210.92 L291.50,210.88 L292.50,210.84 L293.49,210.81 L294.49,210.77 L295.49,210.73 L296.49,210.69 L297.49,210.65 L298.49,210.60 L299.49,210.56 L300.49,210.51 L301.49,210.47 L302.49,210.42 L303.48,210.37 L304.48,210.32 L305.48,210.27 L306.48,210.21 L307.48,210.16 L308.48,210.10 L309.48,210.04 L310.47,209.98 L311.47,209.92 L312.47,209.86 L313.47,209.80 L314.47,209.74 L315.46,209.68 L316.46,209.62 L317.46,209.56 L318.46,209.50 L319.46,209.44 L320.46,209.38 L321.45,209.32 L322.45,209.26 L323.45,209.21 L324.45,209.15 L325.45,209.10 L326.45,209.04 L327.45,208.99 L328.44,208.95 L329.44,208.90 L330.44,208.85 L331.44,208.81 L332.44,208.77 L333.44,208.72 L334.44,208.68 L335.44,208.64 L336.44,208.61 L337.44,208.57 L338.44,208.53 L339.43,208.50 L340.43,208.46 L341.43,208.43 L342.43,208.39 L343.43,208.36 L344.43,208.33 L345.43,208.29 L346.43,208.26 L347.43,208.23 L348.43,208.20 L349.43,208.17 L350.43,208.14 L351.43,208.11 L352.43,208.08 L353.43,208.06 L354.43,208.03 L355.43,208.00 L356.43,207.97 L357.43,207.95 L358.43,207.92 L359.43,207.89 L360.43,207.87 L361.43,207.84 L362.42,207.82 L363.42,207.79 L364.42,207.77 L365.42,207.75 L366.42,207.72 L367.42,207.70 L368.42,207.67 L369.42,207.65 L370.42,207.63 L371.42,207.60 L372.42,207.58 L373.42,207.56 L374.42,207.54 L375.42,207.51 L376.42,207.49 L377.42,207.47 L378.42,207.45 L379.42,207.43 L380.42,207.40 L381.42,207.38 L382.42,207.36 L383.42,207.34 L384.42,207.32 L385.42,207.30 L386.42,207.27 L387.42,207.25 L388.42,207.23 L389.42,207.21 L390.42,207.19 L391.42,207.16 L392.42,207.14 L393.42,207.12 L394.42,207.10 L395.42,207.08 L396.42,207.05 L397.42,207.03 L398.42,207.01 L399.42,206.98 L400.41,206.96 L401.41,206.94 L402.41,206.91 L403.41,206.89 L404.41,206.86 L405.41,206.84 L406.41,206.81 L407.41,206.79 L408.41,206.76 L409.41,206.74 L410.41,206.71 L411.41,206.69 L412.41,206.66 L413.41,206.63 L414.41,206.60 L415.41,206.58 L415.85,206.56"/><path stroke="#C56E1A" d="M37.50,96.40 L37.57,97.40 L37.65,98.39 L37.72,99.39 L37.80,100.39 L37.89,101.38 L37.97,102.38 L38.06,103.38 L38.15,104.37 L38.24,105.37 L38.34,106.36 L38.43,107.36 L38.53,108.35 L38.63,109.35 L38.74,110.34 L38.84,111.34 L38.95,112.33 L39.06,113.33 L39.17,114.32 L39.28,115.31 L39.39,116.31 L39.51,117.30 L39.63,118.29 L39.74,119.29 L39.86,120.28 L39.99,121.27 L40.11,122.27 L40.23,123.26 L40.36,124.25 L40.48,125.24 L40.61,126.23 L40.73,127.23 L40.86,128.22 L40.99,129.21 L41.12,130.20 L41.25,131.19 L41.38,132.18 L41.51,133.18 L41.64,134.17 L41.78,135.16 L41.91,136.15 L42.04,137.14 L42.17,138.13 L42.31,139.12 L42.44,140.11 L42.58,141.10 L42.72,142.09 L42.86,143.08 L43.00,144.07 L43.15,145.06 L43.30,146.05 L43.45,147.04 L43.61,148.03 L43.77,149.01 L43.94,150.00 L44.11,150.99 L44.28,151.97 L44.47,152.95 L44.65,153.94 L44.84,154.92 L45.04,155.90 L45.25,156.88 L45.46,157.85 L45.68,158.83 L45.90,159.80 L46.14,160.78 L46.38,161.75 L46.63,162.72 L46.89,163.68 L47.15,164.65 L47.43,165.61 L47.71,166.57 L48.01,167.52 L48.31,168.47 L48.62,169.42 L48.94,170.37 L49.27,171.32 L49.61,172.26 L49.96,173.19 L50.32,174.12 L50.70,175.05 L51.08,175.98 L51.47,176.90 L51.88,177.81 L52.29,178.72 L52.72,179.62 L53.16,180.52 L53.61,181.41 L54.08,182.30 L54.55,183.18 L55.04,184.05 L55.54,184.92 L56.06,185.77 L56.59,186.62 L57.13,187.46 L57.68,188.29 L58.25,189.12 L58.84,189.93 L59.44,190.73 L60.05,191.52 L60.67,192.30 L61.31,193.07 L61.97,193.82 L62.64,194.57 L63.32,195.29 L64.02,196.01 L64.74,196.71 L65.47,197.39 L66.21,198.06 L66.97,198.72 L67.74,199.35 L68.53,199.97 L69.32,200.57 L70.14,201.15 L70.96,201.72 L71.80,202.27 L72.64,202.80 L73.50,203.32 L74.36,203.82 L75.24,204.31 L76.12,204.78 L77.01,205.23 L77.91,205.67 L78.82,206.09 L79.73,206.50 L80.65,206.89 L81.57,207.27 L82.51,207.64 L83.44,207.99 L84.38,208.33 L85.33,208.65 L86.28,208.96 L87.23,209.26 L88.19,209.54 L89.16,209.81 L90.12,210.07 L91.09,210.32 L92.06,210.55 L93.04,210.78 L94.01,210.99 L94.99,211.19 L95.98,211.38 L96.96,211.56 L97.94,211.74 L98.93,211.90 L99.92,212.05 L100.91,212.20 L101.90,212.34 L102.89,212.47 L103.88,212.59 L104.88,212.70 L105.87,212.81 L106.86,212.91 L107.86,213.01 L108.86,213.10 L109.85,213.18 L110.85,213.26 L111.85,213.34 L112.84,213.41 L113.84,213.47 L114.84,213.54 L115.84,213.59 L116.84,213.65 L117.84,213.71 L118.83,213.76 L119.83,213.81 L120.83,213.86 L121.83,213.90 L122.83,213.95 L123.83,213.99 L124.83,214.04 L125.83,214.08 L126.83,214.12 L127.83,214.16 L128.82,214.19 L129.82,214.23 L130.82,214.26 L131.82,214.30 L132.82,214.33 L133.82,214.36 L134.82,214.39 L135.82,214.42 L136.82,214.44 L137.82,214.47 L138.82,214.50 L139.82,214.52 L140.82,214.54 L141.82,214.56 L142.82,214.58 L143.82,214.60 L144.82,214.62 L145.82,214.64 L146.82,214.66 L147.82,214.67 L148.82,214.69 L149.82,214.70 L150.82,214.71 L151.82,214.73 L152.82,214.74 L153.82,214.75 L154.82,214.76 L155.82,214.77 L156.82,214.78 L157.82,214.78 L158.82,214.79 L159.82,214.80 L160.82,214.80 L161.82,214.81 L162.82,214.81 L163.82,214.82 L164.82,214.82 L165.82,214.82 L166.82,214.82 L167.82,214.83 L168.82,214.83 L169.82,214.83 L170.82,214.83 L171.82,214.83 L172.82,214.83 L173.82,214.83 L174.82,214.83 L175.82,214.83 L176.82,214.82 L177.82,214.82 L178.82,214.82 L179.82,214.82 L180.82,214.82 L181.82,214.81 L182.82,214.81 L183.82,214.81 L184.82,214.81 L185.82,214.80 L186.82,214.80 L187.82,214.80 L188.82,214.79 L189.82,214.79 L190.82,214.79 L191.82,214.78 L192.82,214.78 L193.82,214.78 L194.82,214.78 L195.82,214.77 L196.82,214.77 L197.82,214.77 L198.82,214.76 L199.82,214.76 L200.82,214.76 L201.82,214.75 L202.82,214.75 L203.82,214.74 L204.82,214.74 L205.82,214.74 L206.82,214.73 L207.82,214.73 L208.82,214.72 L209.82,214.71 L210.82,214.71 L211.82,214.70 L212.82,214.69 L213.82,214.69 L214.82,214.68 L215.82,214.67 L216.82,214.66 L217.82,214.65 L218.82,214.64 L219.82,214.63 L220.82,214.62 L221.82,214.61 L222.82,214.60 L223.82,214.59 L224.82,214.57 L225.82,214.56 L226.82,214.54 L227.82,214.53 L228.82,214.51 L229.82,214.50 L230.82,214.48 L231.82,214.46 L232.82,214.44 L233.81,214.42 L234.81,214.40 L235.81,214.38 L236.81,214.36 L237.81,214.34 L238.81,214.31 L239.81,214.29 L240.81,214.27 L241.81,214.25 L242.81,214.22 L243.81,214.20 L244.81,214.17 L245.81,214.15 L246.81,214.13 L247.81,214.10 L248.81,214.08 L249.81,214.05 L250.81,214.03 L251.81,214.01 L252.81,213.98 L253.81,213.96 L254.81,213.93 L255.81,213.91 L256.81,213.89 L257.81,213.87 L258.81,213.85 L259.81,213.82 L260.81,213.80 L261.81,213.78 L262.81,213.76 L263.81,213.74 L264.81,213.73 L265.81,213.71 L266.81,213.69 L267.81,213.68 L268.81,213.66 L269.81,213.65 L270.81,213.63 L271.81,213.62 L272.81,213.60 L273.81,213.59 L274.81,213.57 L275.81,213.56 L276.81,213.54 L277.81,213.52 L278.81,213.51 L279.81,213.49 L280.81,213.47 L281.80,213.45 L282.80,213.42 L283.80,213.40 L284.80,213.37 L285.80,213.35 L286.80,213.32 L287.80,213.28 L288.80,213.25 L289.80,213.21 L290.80,213.18 L291.80,213.14 L292.80,213.10 L293.80,213.05 L294.80,213.01 L295.80,212.96 L296.79,212.91 L297.79,212.86 L298.79,212.81 L299.79,212.76 L300.79,212.71 L301.79,212.65 L302.79,212.59 L303.78,212.53 L304.78,212.47 L305.78,212.41 L306.78,212.35 L307.78,212.29 L308.77,212.22 L309.77,212.16 L310.77,212.09 L311.77,212.02 L312.77,211.96 L313.76,211.89 L314.76,211.82 L315.76,211.75 L316.76,211.69 L317.75,211.62 L318.75,211.55 L319.75,211.48 L320.75,211.42 L321.75,211.35 L322.74,211.29 L323.74,211.22 L324.74,211.16 L325.74,211.10 L326.74,211.04 L327.73,210.98 L328.73,210.92 L329.73,210.86 L330.73,210.81 L331.73,210.75 L332.73,210.70 L333.72,210.65 L334.72,210.60 L335.72,210.55 L336.72,210.50 L337.72,210.45 L338.72,210.40 L339.72,210.35 L340.72,210.31 L341.72,210.26 L342.71,210.21 L343.71,210.17 L344.71,210.13 L345.71,210.08 L346.71,210.04 L347.71,210.00 L348.71,209.96 L349.71,209.91 L350.71,209.87 L351.71,209.83 L352.71,209.79 L353.70,209.75 L354.70,209.71 L355.70,209.68 L356.70,209.64 L357.70,209.60 L358.70,209.56 L359.70,209.52 L360.70,209.49 L361.70,209.45 L362.70,209.41 L363.70,209.38 L364.70,209.34 L365.70,209.31 L366.70,209.27 L367.70,209.24 L368.69,209.20 L369.69,209.17 L370.69,209.14 L371.69,209.10 L372.69,209.07 L373.69,209.03 L374.69,209.00 L375.69,208.97 L376.69,208.93 L377.69,208.90 L378.69,208.87 L379.69,208.83 L380.69,208.80 L381.69,208.77 L382.69,208.74 L383.69,208.70 L384.69,208.67 L385.69,208.64 L386.68,208.60 L387.68,208.57 L388.68,208.54 L389.68,208.50 L390.68,208.47 L391.68,208.44 L392.68,208.41 L393.68,208.37 L394.68,208.34 L395.68,208.30 L396.68,208.27 L397.68,208.24 L398.68,208.20 L399.68,208.17 L400.68,208.13 L401.68,208.10 L402.68,208.06 L403.67,208.03 L404.67,207.99 L405.67,207.95 L406.67,207.92 L407.67,207.88 L408.67,207.84 L409.67,207.81 L410.67,207.77 L411.67,207.73 L412.67,207.69 L413.67,207.65 L414.67,207.61 L415.67,207.57 L415.85,207.57"/><path stroke="#5D9EC7" d="M39.40,72.20 L39.47,73.20 L39.54,74.20 L39.61,75.19 L39.68,76.19 L39.76,77.19 L39.83,78.18 L39.91,79.18 L39.99,80.18 L40.07,81.17 L40.16,82.17 L40.24,83.17 L40.33,84.16 L40.42,85.16 L40.51,86.16 L40.60,87.15 L40.69,88.15 L40.79,89.14 L40.88,90.14 L40.98,91.13 L41.08,92.13 L41.18,93.12 L41.29,94.12 L41.39,95.11 L41.50,96.11 L41.61,97.10 L41.72,98.09 L41.83,99.09 L41.95,100.08 L42.06,101.07 L42.18,102.07 L42.30,103.06 L42.43,104.05 L42.55,105.04 L42.68,106.04 L42.80,107.03 L42.93,108.02 L43.07,109.01 L43.20,110.00 L43.33,110.99 L43.47,111.98 L43.61,112.97 L43.75,113.96 L43.90,114.95 L44.04,115.94 L44.19,116.93 L44.34,117.92 L44.49,118.91 L44.64,119.90 L44.80,120.88 L44.96,121.87 L45.12,122.86 L45.28,123.85 L45.44,124.83 L45.61,125.82 L45.77,126.81 L45.94,127.79 L46.12,128.78 L46.29,129.76 L46.47,130.74 L46.64,131.73 L46.82,132.71 L47.01,133.70 L47.19,134.68 L47.38,135.66 L47.56,136.64 L47.75,137.63 L47.95,138.61 L48.14,139.59 L48.34,140.57 L48.54,141.55 L48.74,142.53 L48.94,143.51 L49.15,144.49 L49.35,145.46 L49.56,146.44 L49.77,147.42 L49.99,148.40 L50.20,149.37 L50.42,150.35 L50.64,151.32 L50.87,152.30 L51.09,153.27 L51.32,154.25 L51.56,155.22 L51.80,156.19 L52.04,157.16 L52.29,158.13 L52.54,159.09 L52.81,160.06 L53.07,161.02 L53.35,161.98 L53.63,162.94 L53.91,163.90 L54.21,164.86 L54.51,165.81 L54.82,166.76 L55.15,167.71 L55.48,168.65 L55.82,169.59 L56.17,170.53 L56.53,171.46 L56.90,172.39 L57.28,173.31 L57.67,174.23 L58.08,175.15 L58.49,176.06 L58.92,176.96 L59.37,177.86 L59.82,178.75 L60.29,179.63 L60.77,180.51 L61.27,181.37 L61.78,182.23 L62.30,183.09 L62.84,183.93 L63.40,184.76 L63.96,185.59 L64.54,186.40 L65.13,187.21 L65.73,188.01 L66.34,188.80 L66.97,189.58 L67.60,190.35 L68.25,191.12 L68.90,191.87 L69.57,192.62 L70.24,193.36 L70.92,194.09 L71.62,194.81 L72.32,195.52 L73.02,196.23 L73.74,196.93 L74.46,197.62 L75.19,198.30 L75.93,198.98 L76.68,199.64 L77.43,200.30 L78.19,200.96 L78.95,201.60 L79.72,202.24 L80.50,202.86 L81.29,203.48 L82.09,204.08 L82.90,204.66 L83.73,205.23 L84.56,205.77 L85.41,206.30 L86.28,206.80 L87.16,207.28 L88.05,207.74 L88.95,208.17 L89.86,208.58 L90.78,208.97 L91.72,209.33 L92.66,209.66 L93.61,209.98 L94.56,210.28 L95.52,210.55 L96.49,210.81 L97.46,211.05 L98.43,211.28 L99.41,211.49 L100.39,211.68 L101.37,211.87 L102.36,212.04 L103.34,212.21 L104.33,212.36 L105.32,212.51 L106.31,212.65 L107.30,212.79 L108.29,212.93 L109.28,213.06 L110.28,213.19 L111.27,213.31 L112.26,213.44 L113.25,213.56 L114.24,213.68 L115.24,213.80 L116.23,213.92 L117.22,214.04 L118.22,214.15 L119.21,214.26 L120.21,214.37 L121.20,214.48 L122.19,214.59 L123.19,214.69 L124.18,214.79 L125.18,214.90 L126.17,214.99 L127.17,215.09 L128.16,215.19 L129.16,215.28 L130.15,215.37 L131.15,215.46 L132.15,215.55 L133.14,215.64 L134.14,215.72 L135.14,215.80 L136.13,215.88 L137.13,215.96 L138.13,216.04 L139.12,216.12 L140.12,216.19 L141.12,216.26 L142.12,216.33 L143.11,216.40 L144.11,216.47 L145.11,216.53 L146.11,216.60 L147.11,216.66 L148.10,216.72 L149.10,216.78 L150.10,216.83 L151.10,216.89 L152.10,216.94 L153.10,216.99 L154.09,217.04 L155.09,217.09 L156.09,217.14 L157.09,217.18 L158.09,217.23 L159.09,217.27 L160.09,217.31 L161.09,217.35 L162.09,217.38 L163.09,217.42 L164.09,217.45 L165.09,217.49 L166.09,217.52 L167.08,217.54 L168.08,217.57 L169.08,217.60 L170.08,217.62 L171.08,217.65 L172.08,217.67 L173.08,217.69 L174.08,217.70 L175.08,217.72 L176.08,217.74 L177.08,217.75 L178.08,217.76 L179.08,217.77 L180.08,217.78 L181.08,217.79 L182.08,217.80 L183.08,217.80 L184.08,217.81 L185.08,217.81 L186.08,217.81 L187.08,217.81 L188.08,217.81 L189.08,217.80 L190.08,217.80 L191.08,217.79 L192.08,217.78 L193.08,217.78 L194.08,217.77 L195.08,217.76 L196.08,217.74 L197.08,217.73 L198.08,217.72 L199.08,217.70 L200.08,217.69 L201.08,217.67 L202.08,217.66 L203.08,217.64 L204.08,217.62 L205.08,217.60 L206.08,217.58 L207.08,217.56 L208.08,217.54 L209.08,217.52 L210.08,217.50 L211.08,217.48 L212.08,217.45 L213.08,217.43 L214.08,217.41 L215.08,217.39 L216.08,217.36 L217.08,217.34 L218.08,217.32 L219.08,217.29 L220.08,217.27 L221.08,217.25 L222.08,217.22 L223.08,217.20 L224.08,217.18 L225.08,217.15 L226.08,217.13 L227.08,217.11 L228.08,217.09 L229.08,217.06 L230.07,217.04 L231.07,217.02 L232.07,217.00 L233.07,216.98 L234.07,216.96 L235.07,216.94 L236.07,216.92 L237.07,216.90 L238.07,216.87 L239.07,216.85 L240.07,216.83 L241.07,216.81 L242.07,216.79 L243.07,216.77 L244.07,216.75 L245.07,216.72 L246.07,216.70 L247.07,216.68 L248.07,216.66 L249.07,216.63 L250.07,216.61 L251.07,216.59 L252.07,216.56 L253.07,216.54 L254.07,216.52 L255.07,216.50 L256.07,216.47 L257.07,216.45 L258.07,216.43 L259.07,216.41 L260.07,216.39 L261.07,216.37 L262.07,216.35 L263.07,216.33 L264.07,216.31 L265.07,216.29 L266.07,216.28 L267.07,216.26 L268.07,216.24 L269.07,216.22 L270.07,216.21 L271.07,216.19 L272.07,216.17 L273.07,216.16 L274.07,216.14 L275.07,216.12 L276.07,216.10 L277.06,216.09 L278.06,216.07 L279.06,216.05 L280.06,216.02 L281.06,216.00 L282.06,215.98 L283.06,215.96 L284.06,215.93 L285.06,215.90 L286.06,215.88 L287.06,215.85 L288.06,215.82 L289.06,215.79 L290.06,215.75 L291.06,215.72 L292.06,215.68 L293.06,215.64 L294.06,215.60 L295.06,215.55 L296.06,215.51 L297.05,215.46 L298.05,215.41 L299.05,215.36 L300.05,215.30 L301.05,215.24 L302.05,215.18 L303.04,215.12 L304.04,215.05 L305.04,214.98 L306.04,214.91 L307.03,214.84 L308.03,214.76 L309.03,214.69 L310.03,214.61 L311.02,214.53 L312.02,214.45 L313.02,214.37 L314.01,214.29 L315.01,214.21 L316.01,214.13 L317.00,214.05 L318.00,213.97 L319.00,213.89 L319.99,213.81 L320.99,213.73 L321.99,213.66 L322.99,213.58 L323.98,213.51 L324.98,213.43 L325.98,213.36 L326.98,213.29 L327.97,213.23 L328.97,213.16 L329.97,213.09 L330.97,213.03 L331.96,212.96 L332.96,212.90 L333.96,212.84 L334.96,212.78 L335.96,212.72 L336.95,212.66 L337.95,212.60 L338.95,212.54 L339.95,212.48 L340.95,212.43 L341.95,212.37 L342.94,212.31 L343.94,212.26 L344.94,212.20 L345.94,212.15 L346.94,212.09 L347.94,212.04 L348.94,211.98 L349.93,211.93 L350.93,211.88 L351.93,211.82 L352.93,211.77 L353.93,211.72 L354.93,211.67 L355.93,211.62 L356.92,211.56 L357.92,211.51 L358.92,211.46 L359.92,211.41 L360.92,211.36 L361.92,211.31 L362.92,211.26 L363.92,211.21 L364.91,211.16 L365.91,211.11 L366.91,211.07 L367.91,211.02 L368.91,210.97 L369.91,210.92 L370.91,210.87 L371.91,210.82 L372.91,210.77 L373.90,210.73 L374.90,210.68 L375.90,210.63 L376.90,210.58 L377.90,210.54 L378.90,210.49 L379.90,210.44 L380.90,210.39 L381.90,210.35 L382.89,210.30 L383.89,210.25 L384.89,210.20 L385.89,210.16 L386.89,210.11 L387.89,210.06 L388.89,210.01 L389.89,209.97 L390.88,209.92 L391.88,209.87 L392.88,209.82 L393.88,209.78 L394.88,209.73 L395.88,209.68 L396.88,209.63 L397.88,209.59 L398.88,209.54 L399.87,209.49 L400.87,209.44 L401.87,209.39 L402.87,209.34 L403.87,209.29 L404.87,209.24 L405.87,209.19 L406.87,209.15 L407.86,209.10 L408.86,209.05 L409.86,209.00 L410.86,208.94 L411.86,208.89 L412.86,208.84 L413.86,208.79 L414.86,208.74 L415.85,208.69"/><path stroke="#FFBF00" d="M41.20,49.00 L41.29,50.00 L41.37,50.99 L41.46,51.99 L41.55,52.98 L41.63,53.98 L41.72,54.98 L41.81,55.97 L41.90,56.97 L41.99,57.96 L42.08,58.96 L42.18,59.96 L42.27,60.95 L42.37,61.95 L42.46,62.94 L42.56,63.94 L42.65,64.93 L42.75,65.93 L42.85,66.92 L42.95,67.92 L43.05,68.91 L43.16,69.91 L43.26,70.90 L43.36,71.90 L43.47,72.89 L43.58,73.89 L43.68,74.88 L43.79,75.87 L43.90,76.87 L44.02,77.86 L44.13,78.86 L44.24,79.85 L44.36,80.84 L44.47,81.84 L44.59,82.83 L44.71,83.82 L44.83,84.81 L44.95,85.81 L45.08,86.80 L45.20,87.79 L45.33,88.78 L45.46,89.77 L45.58,90.77 L45.72,91.76 L45.85,92.75 L45.98,93.74 L46.12,94.73 L46.25,95.72 L46.39,96.71 L46.53,97.70 L46.67,98.69 L46.82,99.68 L46.96,100.67 L47.11,101.66 L47.26,102.65 L47.40,103.64 L47.56,104.63 L47.71,105.61 L47.87,106.60 L48.02,107.59 L48.18,108.58 L48.34,109.56 L48.50,110.55 L48.67,111.54 L48.83,112.52 L49.00,113.51 L49.17,114.50 L49.34,115.48 L49.52,116.47 L49.69,117.45 L49.87,118.43 L50.05,119.42 L50.23,120.40 L50.42,121.38 L50.60,122.37 L50.79,123.35 L50.98,124.33 L51.17,125.31 L51.37,126.29 L51.56,127.27 L51.76,128.25 L51.96,129.23 L52.16,130.21 L52.37,131.19 L52.58,132.17 L52.78,133.15 L53.00,134.12 L53.21,135.10 L53.43,136.08 L53.64,137.05 L53.87,138.03 L54.09,139.00 L54.32,139.98 L54.54,140.95 L54.78,141.92 L55.01,142.90 L55.25,143.87 L55.50,144.84 L55.75,145.80 L56.00,146.77 L56.25,147.74 L56.52,148.70 L56.78,149.67 L57.05,150.63 L57.33,151.59 L57.61,152.55 L57.90,153.51 L58.19,154.46 L58.49,155.42 L58.80,156.37 L59.11,157.32 L59.43,158.27 L59.76,159.21 L60.09,160.16 L60.43,161.10 L60.78,162.03 L61.14,162.97 L61.50,163.90 L61.87,164.83 L62.25,165.75 L62.64,166.67 L63.04,167.59 L63.45,168.50 L63.86,169.41 L64.29,170.32 L64.72,171.22 L65.17,172.12 L65.62,173.01 L66.08,173.89 L66.56,174.77 L67.04,175.65 L67.53,176.52 L68.04,177.38 L68.55,178.24 L69.08,179.09 L69.61,179.94 L70.15,180.78 L70.70,181.61 L71.26,182.44 L71.83,183.27 L72.40,184.08 L72.98,184.90 L73.57,185.71 L74.17,186.51 L74.77,187.31 L75.38,188.10 L76.00,188.89 L76.62,189.67 L77.25,190.45 L77.88,191.22 L78.52,191.99 L79.17,192.75 L79.82,193.51 L80.49,194.26 L81.16,195.00 L81.83,195.74 L82.52,196.46 L83.21,197.18 L83.92,197.89 L84.63,198.59 L85.36,199.28 L86.09,199.96 L86.84,200.62 L87.60,201.28 L88.37,201.91 L89.15,202.54 L89.94,203.15 L90.74,203.74 L91.56,204.32 L92.39,204.88 L93.23,205.42 L94.09,205.94 L94.95,206.44 L95.83,206.92 L96.72,207.38 L97.61,207.83 L98.52,208.25 L99.43,208.66 L100.35,209.05 L101.28,209.43 L102.21,209.80 L103.14,210.15 L104.08,210.49 L105.03,210.81 L105.98,211.13 L106.93,211.44 L107.88,211.74 L108.84,212.03 L109.80,212.32 L110.76,212.60 L111.72,212.87 L112.68,213.14 L113.65,213.40 L114.61,213.66 L115.58,213.91 L116.55,214.15 L117.52,214.39 L118.50,214.62 L119.47,214.85 L120.44,215.07 L121.42,215.28 L122.40,215.49 L123.38,215.70 L124.36,215.90 L125.34,216.09 L126.32,216.28 L127.30,216.46 L128.29,216.64 L129.27,216.81 L130.26,216.98 L131.25,217.14 L132.23,217.30 L133.22,217.46 L134.21,217.61 L135.20,217.75 L136.19,217.89 L137.18,218.03 L138.17,218.16 L139.16,218.29 L140.16,218.41 L141.15,218.53 L142.14,218.64 L143.14,218.75 L144.13,218.86 L145.12,218.97 L146.12,219.07 L147.11,219.16 L148.11,219.26 L149.11,219.35 L150.10,219.43 L151.10,219.51 L152.10,219.59 L153.09,219.67 L154.09,219.75 L155.09,219.82 L156.09,219.88 L157.08,219.95 L158.08,220.01 L159.08,220.07 L160.08,220.13 L161.08,220.18 L162.07,220.24 L163.07,220.29 L164.07,220.33 L165.07,220.38 L166.07,220.42 L167.07,220.46 L168.07,220.50 L169.07,220.54 L170.07,220.58 L171.07,220.61 L172.07,220.64 L173.07,220.68 L174.07,220.71 L175.07,220.73 L176.06,220.76 L177.06,220.79 L178.06,220.81 L179.06,220.84 L180.06,220.86 L181.06,220.88 L182.06,220.90 L183.06,220.92 L184.06,220.94 L185.06,220.96 L186.06,220.98 L187.06,220.99 L188.06,221.01 L189.06,221.02 L190.06,221.04 L191.06,221.05 L192.06,221.07 L193.06,221.08 L194.06,221.09 L195.06,221.10 L196.06,221.11 L197.06,221.12 L198.06,221.12 L199.06,221.13 L200.06,221.13 L201.06,221.14 L202.06,221.14 L203.06,221.14 L204.06,221.14 L205.06,221.14 L206.06,221.14 L207.06,221.14 L208.06,221.14 L209.06,221.13 L210.06,221.13 L211.06,221.12 L212.06,221.11 L213.06,221.11 L214.06,221.10 L215.06,221.08 L216.06,221.07 L217.06,221.06 L218.06,221.04 L219.06,221.03 L220.06,221.01 L221.06,220.99 L222.06,220.97 L223.06,220.95 L224.06,220.93 L225.06,220.91 L226.06,220.88 L227.06,220.86 L228.06,220.83 L229.06,220.80 L230.06,220.77 L231.06,220.74 L232.06,220.71 L233.06,220.68 L234.06,220.65 L235.06,220.62 L236.05,220.59 L237.05,220.55 L238.05,220.52 L239.05,220.48 L240.05,220.45 L241.05,220.41 L242.05,220.38 L243.05,220.34 L244.05,220.31 L245.05,220.27 L246.05,220.23 L247.05,220.20 L248.05,220.16 L249.05,220.13 L250.05,220.09 L251.05,220.05 L252.04,220.02 L253.04,219.98 L254.04,219.95 L255.04,219.91 L256.04,219.88 L257.04,219.84 L258.04,219.81 L259.04,219.78 L260.04,219.75 L261.04,219.71 L262.04,219.68 L263.04,219.65 L264.04,219.62 L265.04,219.59 L266.04,219.57 L267.04,219.54 L268.04,219.51 L269.04,219.48 L270.04,219.45 L271.04,219.42 L272.03,219.40 L273.03,219.37 L274.03,219.34 L275.03,219.31 L276.03,219.28 L277.03,219.25 L278.03,219.22 L279.03,219.18 L280.03,219.15 L281.03,219.11 L282.03,219.08 L283.03,219.04 L284.03,219.00 L285.03,218.96 L286.03,218.91 L287.03,218.87 L288.02,218.82 L289.02,218.78 L290.02,218.73 L291.02,218.68 L292.02,218.62 L293.02,218.57 L294.02,218.51 L295.01,218.45 L296.01,218.39 L297.01,218.33 L298.01,218.27 L299.01,218.20 L300.00,218.14 L301.00,218.07 L302.00,217.99 L303.00,217.92 L303.99,217.85 L304.99,217.77 L305.99,217.69 L306.98,217.61 L307.98,217.53 L308.98,217.44 L309.97,217.36 L310.97,217.27 L311.97,217.19 L312.96,217.10 L313.96,217.02 L314.96,216.93 L315.95,216.84 L316.95,216.75 L317.94,216.67 L318.94,216.58 L319.94,216.50 L320.93,216.41 L321.93,216.33 L322.93,216.24 L323.92,216.16 L324.92,216.08 L325.92,216.00 L326.91,215.92 L327.91,215.84 L328.91,215.76 L329.90,215.68 L330.90,215.60 L331.90,215.53 L332.89,215.45 L333.89,215.38 L334.89,215.30 L335.89,215.23 L336.88,215.15 L337.88,215.08 L338.88,215.01 L339.88,214.94 L340.87,214.86 L341.87,214.79 L342.87,214.72 L343.87,214.65 L344.86,214.58 L345.86,214.51 L346.86,214.44 L347.86,214.37 L348.85,214.30 L349.85,214.23 L350.85,214.17 L351.85,214.10 L352.84,214.03 L353.84,213.96 L354.84,213.90 L355.84,213.83 L356.84,213.76 L357.83,213.69 L358.83,213.63 L359.83,213.56 L360.83,213.50 L361.82,213.43 L362.82,213.36 L363.82,213.30 L364.82,213.23 L365.82,213.17 L366.81,213.10 L367.81,213.04 L368.81,212.97 L369.81,212.91 L370.81,212.84 L371.80,212.78 L372.80,212.72 L373.80,212.65 L374.80,212.59 L375.79,212.52 L376.79,212.46 L377.79,212.39 L378.79,212.33 L379.79,212.27 L380.78,212.20 L381.78,212.14 L382.78,212.08 L383.78,212.01 L384.78,211.95 L385.77,211.88 L386.77,211.82 L387.77,211.76 L388.77,211.69 L389.77,211.63 L390.76,211.56 L391.76,211.50 L392.76,211.44 L393.76,211.37 L394.76,211.31 L395.75,211.24 L396.75,211.18 L397.75,211.11 L398.75,211.05 L399.75,210.98 L400.74,210.92 L401.74,210.85 L402.74,210.79 L403.74,210.72 L404.73,210.66 L405.73,210.59 L406.73,210.53 L407.73,210.46 L408.73,210.39 L409.72,210.33 L410.72,210.26 L411.72,210.19 L412.72,210.13 L413.71,210.06 L414.71,209.99 L415.71,209.92 L415.85,209.91"/><path stroke="#A5609D" d="M43.10,27.30 L43.21,28.29 L43.31,29.29 L43.41,30.28 L43.52,31.28 L43.62,32.27 L43.73,33.27 L43.83,34.26 L43.94,35.26 L44.04,36.25 L44.15,37.25 L44.25,38.24 L44.36,39.23 L44.46,40.23 L44.57,41.22 L44.67,42.22 L44.78,43.21 L44.89,44.21 L44.99,45.20 L45.10,46.19 L45.21,47.19 L45.31,48.18 L45.42,49.18 L45.53,50.17 L45.64,51.17 L45.75,52.16 L45.86,53.15 L45.97,54.15 L46.08,55.14 L46.19,56.13 L46.31,57.13 L46.42,58.12 L46.53,59.12 L46.65,60.11 L46.76,61.10 L46.88,62.10 L47.00,63.09 L47.11,64.08 L47.23,65.07 L47.35,66.07 L47.47,67.06 L47.59,68.05 L47.72,69.04 L47.84,70.04 L47.97,71.03 L48.09,72.02 L48.22,73.01 L48.35,74.00 L48.48,75.00 L48.61,75.99 L48.74,76.98 L48.87,77.97 L49.00,78.96 L49.14,79.95 L49.28,80.94 L49.42,81.93 L49.56,82.92 L49.70,83.91 L49.84,84.90 L49.98,85.89 L50.13,86.88 L50.27,87.87 L50.42,88.86 L50.57,89.85 L50.72,90.84 L50.88,91.83 L51.03,92.81 L51.19,93.80 L51.35,94.79 L51.51,95.78 L51.67,96.76 L51.83,97.75 L52.00,98.74 L52.17,99.72 L52.34,100.71 L52.51,101.69 L52.68,102.68 L52.86,103.66 L53.03,104.65 L53.21,105.63 L53.39,106.61 L53.58,107.60 L53.76,108.58 L53.95,109.56 L54.14,110.54 L54.33,111.52 L54.53,112.50 L54.72,113.49 L54.92,114.47 L55.12,115.44 L55.33,116.42 L55.53,117.40 L55.74,118.38 L55.95,119.36 L56.16,120.34 L56.38,121.31 L56.60,122.29 L56.82,123.26 L57.04,124.24 L57.27,125.21 L57.50,126.19 L57.73,127.16 L57.96,128.13 L58.20,129.10 L58.43,130.07 L58.68,131.04 L58.92,132.01 L59.17,132.98 L59.42,133.95 L59.67,134.92 L59.93,135.89 L60.18,136.85 L60.44,137.82 L60.71,138.78 L60.98,139.74 L61.25,140.71 L61.52,141.67 L61.80,142.63 L62.08,143.59 L62.37,144.55 L62.66,145.50 L62.96,146.46 L63.25,147.41 L63.56,148.37 L63.87,149.32 L64.18,150.27 L64.50,151.22 L64.82,152.16 L65.15,153.11 L65.48,154.05 L65.82,154.99 L66.17,155.93 L66.52,156.86 L66.88,157.80 L67.24,158.73 L67.61,159.66 L67.98,160.59 L68.37,161.51 L68.75,162.43 L69.15,163.35 L69.55,164.27 L69.96,165.18 L70.38,166.09 L70.80,166.99 L71.23,167.90 L71.67,168.80 L72.11,169.69 L72.57,170.58 L73.03,171.47 L73.50,172.35 L73.97,173.23 L74.46,174.11 L74.95,174.98 L75.45,175.84 L75.96,176.70 L76.48,177.56 L77.00,178.41 L77.54,179.25 L78.08,180.09 L78.63,180.93 L79.19,181.76 L79.75,182.58 L80.33,183.40 L80.91,184.22 L81.50,185.02 L82.10,185.83 L82.70,186.62 L83.31,187.41 L83.93,188.20 L84.56,188.98 L85.20,189.75 L85.84,190.51 L86.49,191.27 L87.15,192.03 L87.81,192.77 L88.49,193.51 L89.17,194.25 L89.86,194.97 L90.55,195.69 L91.25,196.40 L91.96,197.11 L92.68,197.81 L93.40,198.50 L94.13,199.18 L94.87,199.85 L95.62,200.52 L96.37,201.18 L97.13,201.83 L97.90,202.47 L98.67,203.10 L99.46,203.72 L100.25,204.32 L101.06,204.91 L101.88,205.49 L102.71,206.04 L103.55,206.58 L104.41,207.10 L105.28,207.60 L106.15,208.08 L107.04,208.55 L107.93,209.00 L108.82,209.44 L109.73,209.87 L110.63,210.29 L111.54,210.71 L112.46,211.11 L113.38,211.51 L114.30,211.89 L115.23,212.27 L116.15,212.64 L117.09,213.01 L118.02,213.36 L118.96,213.71 L119.90,214.05 L120.84,214.38 L121.79,214.70 L122.74,215.02 L123.69,215.33 L124.64,215.63 L125.60,215.92 L126.56,216.21 L127.52,216.49 L128.48,216.77 L129.44,217.03 L130.41,217.29 L131.37,217.54 L132.34,217.79 L133.31,218.03 L134.29,218.26 L135.26,218.49 L136.24,218.71 L137.21,218.93 L138.19,219.13 L139.17,219.34 L140.15,219.53 L141.13,219.72 L142.12,219.91 L143.10,220.09 L144.08,220.26 L145.07,220.43 L146.06,220.59 L147.04,220.75 L148.03,220.90 L149.02,221.05 L150.01,221.19 L151.00,221.33 L151.99,221.46 L152.98,221.59 L153.98,221.71 L154.97,221.83 L155.96,221.95 L156.96,222.06 L157.95,222.16 L158.95,222.27 L159.94,222.37 L160.94,222.46 L161.93,222.55 L162.93,222.64 L163.93,222.73 L164.92,222.81 L165.92,222.89 L166.92,222.96 L167.91,223.03 L168.91,223.11 L169.91,223.18 L170.91,223.25 L171.90,223.32 L172.90,223.39 L173.90,223.46 L174.90,223.53 L175.89,223.60 L176.89,223.68 L177.89,223.76 L178.88,223.84 L179.88,223.92 L180.88,224.01 L181.87,224.11 L182.87,224.20 L183.86,224.30 L184.86,224.40 L185.85,224.49 L186.85,224.57 L187.85,224.64 L188.85,224.70 L189.84,224.75 L190.84,224.79 L191.84,224.83 L192.84,224.86 L193.84,224.88 L194.84,224.90 L195.84,224.92 L196.84,224.93 L197.84,224.94 L198.84,224.95 L199.84,224.96 L200.84,224.97 L201.84,224.97 L202.84,224.98 L203.84,224.98 L204.84,224.98 L205.84,224.98 L206.84,224.98 L207.84,224.98 L208.84,224.98 L209.84,224.98 L210.84,224.97 L211.84,224.96 L212.84,224.96 L213.84,224.95 L214.84,224.94 L215.84,224.92 L216.84,224.91 L217.84,224.89 L218.84,224.88 L219.84,224.86 L220.84,224.84 L221.84,224.82 L222.84,224.80 L223.84,224.78 L224.84,224.75 L225.84,224.73 L226.84,224.70 L227.84,224.67 L228.84,224.64 L229.84,224.61 L230.84,224.58 L231.84,224.55 L232.84,224.52 L233.84,224.48 L234.83,224.45 L235.83,224.41 L236.83,224.38 L237.83,224.34 L238.83,224.30 L239.83,224.26 L240.83,224.22 L241.83,224.18 L242.83,224.14 L243.83,224.10 L244.83,224.06 L245.83,224.01 L246.83,223.97 L247.82,223.93 L248.82,223.89 L249.82,223.84 L250.82,223.80 L251.82,223.76 L252.82,223.71 L253.82,223.67 L254.82,223.63 L255.82,223.58 L256.82,223.54 L257.82,223.50 L258.81,223.46 L259.81,223.41 L260.81,223.37 L261.81,223.33 L262.81,223.29 L263.81,223.25 L264.81,223.21 L265.81,223.17 L266.81,223.13 L267.81,223.09 L268.81,223.05 L269.81,223.01 L270.80,222.97 L271.80,222.93 L272.80,222.89 L273.80,222.85 L274.80,222.81 L275.80,222.76 L276.80,222.72 L277.80,222.68 L278.80,222.64 L279.80,222.59 L280.80,222.55 L281.79,222.50 L282.79,222.45 L283.79,222.40 L284.79,222.35 L285.79,222.30 L286.79,222.25 L287.79,222.20 L288.79,222.14 L289.78,222.09 L290.78,222.03 L291.78,221.97 L292.78,221.91 L293.78,221.84 L294.77,221.78 L295.77,221.71 L296.77,221.64 L297.77,221.57 L298.76,221.49 L299.76,221.42 L300.76,221.34 L301.75,221.26 L302.75,221.18 L303.75,221.09 L304.74,221.00 L305.74,220.91 L306.74,220.82 L307.73,220.73 L308.73,220.63 L309.72,220.53 L310.72,220.44 L311.71,220.34 L312.71,220.24 L313.70,220.14 L314.70,220.04 L315.69,219.94 L316.69,219.84 L317.68,219.74 L318.68,219.64 L319.67,219.54 L320.67,219.44 L321.66,219.34 L322.66,219.24 L323.65,219.15 L324.65,219.05 L325.64,218.96 L326.64,218.86 L327.64,218.77 L328.63,218.68 L329.63,218.59 L330.62,218.50 L331.62,218.41 L332.61,218.32 L333.61,218.23 L334.61,218.14 L335.60,218.06 L336.60,217.97 L337.60,217.88 L338.59,217.80 L339.59,217.71 L340.58,217.62 L341.58,217.54 L342.58,217.45 L343.57,217.37 L344.57,217.28 L345.57,217.20 L346.56,217.11 L347.56,217.03 L348.56,216.94 L349.55,216.85 L350.55,216.77 L351.54,216.68 L352.54,216.60 L353.54,216.52 L354.53,216.43 L355.53,216.35 L356.53,216.26 L357.52,216.18 L358.52,216.09 L359.52,216.01 L360.51,215.92 L361.51,215.84 L362.50,215.75 L363.50,215.67 L364.50,215.59 L365.49,215.50 L366.49,215.42 L367.49,215.33 L368.48,215.25 L369.48,215.17 L370.48,215.08 L371.47,215.00 L372.47,214.91 L373.47,214.83 L374.46,214.75 L375.46,214.66 L376.46,214.58 L377.45,214.50 L378.45,214.41 L379.44,214.33 L380.44,214.24 L381.44,214.16 L382.43,214.08 L383.43,213.99 L384.43,213.91 L385.42,213.83 L386.42,213.74 L387.42,213.66 L388.41,213.57 L389.41,213.49 L390.41,213.41 L391.40,213.32 L392.40,213.24 L393.40,213.16 L394.39,213.07 L395.39,212.99 L396.39,212.90 L397.38,212.82 L398.38,212.74 L399.37,212.65 L400.37,212.57 L401.37,212.48 L402.36,212.40 L403.36,212.32 L404.36,212.23 L405.35,212.15 L406.35,212.06 L407.35,211.98 L408.34,211.90 L409.34,211.81 L410.34,211.73 L411.33,211.64 L412.33,211.56 L413.32,211.47 L414.32,211.39 L415.32,211.30 L415.85,211.26"/><path stroke="#929600" d="M47.30,27.30 L47.42,28.29 L47.54,29.29 L47.66,30.28 L47.78,31.27 L47.90,32.26 L48.02,33.26 L48.13,34.25 L48.25,35.24 L48.37,36.24 L48.49,37.23 L48.61,38.22 L48.73,39.21 L48.85,40.21 L48.97,41.20 L49.09,42.19 L49.21,43.19 L49.33,44.18 L49.45,45.17 L49.57,46.16 L49.69,47.16 L49.82,48.15 L49.94,49.14 L50.06,50.13 L50.19,51.13 L50.31,52.12 L50.43,53.11 L50.56,54.10 L50.69,55.09 L50.81,56.09 L50.94,57.08 L51.07,58.07 L51.20,59.06 L51.33,60.05 L51.46,61.04 L51.59,62.04 L51.72,63.03 L51.86,64.02 L51.99,65.01 L52.13,66.00 L52.26,66.99 L52.40,67.98 L52.54,68.97 L52.68,69.96 L52.82,70.95 L52.96,71.94 L53.11,72.93 L53.25,73.92 L53.40,74.91 L53.55,75.90 L53.70,76.89 L53.85,77.88 L54.00,78.86 L54.16,79.85 L54.31,80.84 L54.47,81.83 L54.63,82.81 L54.79,83.80 L54.95,84.79 L55.11,85.77 L55.28,86.76 L55.45,87.75 L55.61,88.73 L55.79,89.72 L55.96,90.70 L56.13,91.69 L56.31,92.67 L56.49,93.66 L56.67,94.64 L56.85,95.62 L57.04,96.61 L57.22,97.59 L57.41,98.57 L57.60,99.55 L57.80,100.53 L57.99,101.51 L58.19,102.49 L58.39,103.47 L58.59,104.45 L58.80,105.43 L59.01,106.41 L59.22,107.39 L59.43,108.36 L59.64,109.34 L59.86,110.32 L60.08,111.29 L60.30,112.27 L60.53,113.24 L60.76,114.22 L60.99,115.19 L61.22,116.16 L61.46,117.13 L61.69,118.10 L61.94,119.07 L62.18,120.04 L62.43,121.01 L62.68,121.98 L62.93,122.95 L63.19,123.91 L63.45,124.88 L63.71,125.85 L63.97,126.81 L64.24,127.77 L64.51,128.74 L64.79,129.70 L65.07,130.66 L65.35,131.62 L65.63,132.58 L65.92,133.53 L66.21,134.49 L66.50,135.45 L66.80,136.40 L67.10,137.35 L67.41,138.31 L67.72,139.26 L68.03,140.21 L68.34,141.16 L68.66,142.11 L68.98,143.05 L69.31,144.00 L69.64,144.94 L69.98,145.88 L70.32,146.82 L70.66,147.76 L71.01,148.70 L71.36,149.64 L71.71,150.57 L72.08,151.50 L72.44,152.43 L72.81,153.36 L73.19,154.29 L73.57,155.21 L73.95,156.14 L74.34,157.06 L74.74,157.98 L75.14,158.89 L75.54,159.81 L75.96,160.72 L76.37,161.63 L76.79,162.53 L77.22,163.44 L77.65,164.34 L78.09,165.24 L78.54,166.13 L78.99,167.03 L79.45,167.92 L79.91,168.80 L80.38,169.69 L80.85,170.57 L81.33,171.44 L81.82,172.32 L82.31,173.19 L82.81,174.05 L83.32,174.91 L83.83,175.77 L84.35,176.63 L84.88,177.48 L85.41,178.32 L85.95,179.17 L86.50,180.00 L87.05,180.84 L87.61,181.66 L88.18,182.49 L88.75,183.31 L89.33,184.12 L89.92,184.93 L90.52,185.73 L91.12,186.53 L91.73,187.33 L92.34,188.11 L92.97,188.89 L93.60,189.67 L94.24,190.44 L94.88,191.20 L95.53,191.96 L96.19,192.71 L96.86,193.46 L97.53,194.20 L98.22,194.93 L98.90,195.65 L99.60,196.37 L100.30,197.08 L101.02,197.79 L101.73,198.48 L102.46,199.17 L103.20,199.85 L103.94,200.52 L104.69,201.18 L105.44,201.83 L106.21,202.48 L106.98,203.11 L107.76,203.74 L108.55,204.36 L109.34,204.96 L110.14,205.56 L110.95,206.15 L111.77,206.72 L112.59,207.29 L113.42,207.85 L114.26,208.40 L115.10,208.93 L115.96,209.46 L116.81,209.97 L117.67,210.48 L118.54,210.98 L119.42,211.46 L120.29,211.94 L121.18,212.41 L122.07,212.86 L122.96,213.31 L123.86,213.75 L124.77,214.17 L125.68,214.59 L126.59,215.00 L127.51,215.40 L128.43,215.79 L129.35,216.16 L130.28,216.53 L131.22,216.89 L132.15,217.25 L133.09,217.59 L134.03,217.92 L134.98,218.24 L135.93,218.56 L136.88,218.87 L137.84,219.16 L138.79,219.45 L139.75,219.74 L140.71,220.01 L141.68,220.28 L142.64,220.54 L143.61,220.79 L144.58,221.04 L145.55,221.28 L146.52,221.52 L147.50,221.74 L148.47,221.97 L149.45,222.18 L150.42,222.39 L151.40,222.60 L152.38,222.80 L153.36,223.00 L154.34,223.19 L155.33,223.37 L156.31,223.56 L157.29,223.74 L158.28,223.91 L159.26,224.08 L160.25,224.25 L161.24,224.42 L162.22,224.58 L163.21,224.74 L164.20,224.90 L165.18,225.05 L166.17,225.21 L167.16,225.36 L168.15,225.50 L169.14,225.65 L170.13,225.79 L171.12,225.93 L172.11,226.07 L173.10,226.21 L174.09,226.34 L175.08,226.47 L176.08,226.60 L177.07,226.72 L178.06,226.85 L179.05,226.97 L180.05,227.09 L181.04,227.20 L182.03,227.32 L183.03,227.43 L184.02,227.54 L185.01,227.65 L186.01,227.75 L187.00,227.86 L188.00,227.96 L188.99,228.06 L189.99,228.15 L190.98,228.24 L191.98,228.33 L192.98,228.41 L193.97,228.49 L194.97,228.57 L195.97,228.64 L196.97,228.70 L197.96,228.76 L198.96,228.81 L199.96,228.85 L200.96,228.89 L201.96,228.93 L202.96,228.96 L203.96,228.99 L204.96,229.01 L205.96,229.03 L206.96,229.05 L207.96,229.07 L208.96,229.08 L209.96,229.09 L210.96,229.10 L211.96,229.11 L212.96,229.11 L213.96,229.12 L214.96,229.12 L215.96,229.11 L216.96,229.11 L217.96,229.11 L218.96,229.10 L219.96,229.09 L220.96,229.08 L221.96,229.06 L222.96,229.05 L223.96,229.03 L224.96,229.01 L225.96,228.99 L226.96,228.97 L227.96,228.95 L228.96,228.92 L229.96,228.90 L230.96,228.87 L231.96,228.84 L232.96,228.81 L233.95,228.78 L234.95,228.75 L235.95,228.71 L236.95,228.68 L237.95,228.64 L238.95,228.60 L239.95,228.57 L240.95,228.53 L241.95,228.49 L242.95,228.44 L243.95,228.40 L244.95,228.36 L245.95,228.31 L246.94,228.27 L247.94,228.22 L248.94,228.18 L249.94,228.13 L250.94,228.08 L251.94,228.04 L252.94,227.99 L253.94,227.94 L254.94,227.89 L255.93,227.84 L256.93,227.79 L257.93,227.74 L258.93,227.69 L259.93,227.64 L260.93,227.59 L261.93,227.54 L262.93,227.49 L263.92,227.43 L264.92,227.38 L265.92,227.33 L266.92,227.28 L267.92,227.23 L268.92,227.17 L269.92,227.12 L270.91,227.07 L271.91,227.01 L272.91,226.96 L273.91,226.90 L274.91,226.85 L275.91,226.79 L276.91,226.73 L277.90,226.67 L278.90,226.61 L279.90,226.55 L280.90,226.49 L281.90,226.43 L282.89,226.37 L283.89,226.30 L284.89,226.24 L285.89,226.17 L286.89,226.10 L287.88,226.03 L288.88,225.96 L289.88,225.88 L290.87,225.81 L291.87,225.73 L292.87,225.66 L293.87,225.58 L294.86,225.50 L295.86,225.41 L296.86,225.33 L297.85,225.24 L298.85,225.15 L299.84,225.06 L300.84,224.97 L301.83,224.87 L302.83,224.78 L303.82,224.68 L304.82,224.58 L305.81,224.47 L306.81,224.37 L307.80,224.26 L308.80,224.15 L309.79,224.05 L310.79,223.94 L311.78,223.83 L312.77,223.71 L313.77,223.60 L314.76,223.49 L315.75,223.38 L316.75,223.26 L317.74,223.15 L318.74,223.04 L319.73,222.93 L320.72,222.81 L321.72,222.70 L322.71,222.59 L323.70,222.48 L324.70,222.37 L325.69,222.27 L326.69,222.16 L327.68,222.05 L328.67,221.94 L329.67,221.84 L330.66,221.73 L331.66,221.62 L332.65,221.52 L333.65,221.41 L334.64,221.31 L335.64,221.21 L336.63,221.10 L337.62,221.00 L338.62,220.89 L339.61,220.79 L340.61,220.68 L341.60,220.58 L342.60,220.48 L343.59,220.37 L344.59,220.27 L345.58,220.16 L346.58,220.06 L347.57,219.96 L348.57,219.85 L349.56,219.75 L350.55,219.64 L351.55,219.54 L352.54,219.43 L353.54,219.33 L354.53,219.22 L355.53,219.12 L356.52,219.01 L357.52,218.91 L358.51,218.80 L359.50,218.70 L360.50,218.59 L361.49,218.49 L362.49,218.38 L363.48,218.28 L364.48,218.17 L365.47,218.07 L366.47,217.96 L367.46,217.86 L368.45,217.75 L369.45,217.64 L370.44,217.54 L371.44,217.43 L372.43,217.33 L373.43,217.22 L374.42,217.12 L375.42,217.01 L376.41,216.91 L377.40,216.80 L378.40,216.69 L379.39,216.59 L380.39,216.48 L381.38,216.38 L382.38,216.27 L383.37,216.16 L384.36,216.06 L385.36,215.95 L386.35,215.85 L387.35,215.74 L388.34,215.64 L389.34,215.53 L390.33,215.42 L391.33,215.32 L392.32,215.21 L393.31,215.11 L394.31,215.00 L395.30,214.89 L396.30,214.79 L397.29,214.68 L398.29,214.58 L399.28,214.47 L400.27,214.37 L401.27,214.26 L402.26,214.15 L403.26,214.05 L404.25,213.94 L405.25,213.84 L406.24,213.73 L407.24,213.63 L408.23,213.52 L409.22,213.41 L410.22,213.31 L411.21,213.20 L412.21,213.10 L413.20,212.99 L414.20,212.89 L415.19,212.78 L415.85,212.71"/><path stroke="#E95536" d="M51.50,27.30 L51.62,28.29 L51.74,29.28 L51.87,30.28 L51.99,31.27 L52.12,32.26 L52.24,33.25 L52.37,34.25 L52.50,35.24 L52.63,36.23 L52.76,37.22 L52.89,38.21 L53.02,39.20 L53.15,40.19 L53.28,41.19 L53.42,42.18 L53.55,43.17 L53.69,44.16 L53.83,45.15 L53.97,46.14 L54.10,47.13 L54.25,48.12 L54.39,49.11 L54.53,50.10 L54.68,51.09 L54.82,52.08 L54.97,53.07 L55.12,54.06 L55.26,55.04 L55.42,56.03 L55.57,57.02 L55.72,58.01 L55.87,59.00 L56.03,59.99 L56.19,60.97 L56.35,61.96 L56.51,62.95 L56.67,63.93 L56.83,64.92 L57.00,65.91 L57.16,66.89 L57.33,67.88 L57.50,68.86 L57.67,69.85 L57.84,70.84 L58.02,71.82 L58.19,72.80 L58.37,73.79 L58.55,74.77 L58.73,75.76 L58.91,76.74 L59.10,77.72 L59.28,78.70 L59.47,79.69 L59.66,80.67 L59.85,81.65 L60.04,82.63 L60.24,83.61 L60.43,84.59 L60.63,85.57 L60.83,86.55 L61.04,87.53 L61.24,88.51 L61.45,89.49 L61.66,90.47 L61.87,91.44 L62.08,92.42 L62.29,93.40 L62.51,94.37 L62.73,95.35 L62.95,96.33 L63.17,97.30 L63.40,98.28 L63.62,99.25 L63.85,100.22 L64.09,101.20 L64.32,102.17 L64.56,103.14 L64.79,104.11 L65.03,105.08 L65.28,106.05 L65.52,107.02 L65.77,107.99 L66.02,108.96 L66.27,109.93 L66.53,110.89 L66.78,111.86 L67.04,112.82 L67.30,113.79 L67.57,114.75 L67.83,115.72 L68.10,116.68 L68.38,117.64 L68.65,118.61 L68.93,119.57 L69.21,120.53 L69.49,121.49 L69.77,122.44 L70.06,123.40 L70.35,124.36 L70.64,125.32 L70.94,126.27 L71.23,127.23 L71.53,128.18 L71.84,129.13 L72.14,130.09 L72.45,131.04 L72.76,131.99 L73.08,132.94 L73.39,133.88 L73.71,134.83 L74.03,135.78 L74.36,136.72 L74.69,137.67 L75.02,138.61 L75.35,139.56 L75.69,140.50 L76.03,141.44 L76.37,142.38 L76.72,143.31 L77.07,144.25 L77.42,145.19 L77.78,146.12 L78.14,147.05 L78.51,147.98 L78.87,148.91 L79.25,149.84 L79.62,150.77 L80.00,151.69 L80.39,152.62 L80.77,153.54 L81.17,154.46 L81.56,155.38 L81.96,156.29 L82.37,157.21 L82.78,158.12 L83.19,159.03 L83.61,159.94 L84.04,160.84 L84.46,161.75 L84.90,162.65 L85.34,163.55 L85.78,164.44 L86.23,165.34 L86.68,166.23 L87.14,167.12 L87.60,168.00 L88.07,168.89 L88.55,169.77 L89.03,170.64 L89.51,171.52 L90.00,172.39 L90.50,173.26 L91.00,174.12 L91.51,174.98 L92.02,175.84 L92.54,176.70 L93.07,177.55 L93.60,178.39 L94.14,179.24 L94.68,180.08 L95.23,180.91 L95.79,181.74 L96.35,182.57 L96.92,183.39 L97.50,184.21 L98.08,185.02 L98.67,185.83 L99.26,186.64 L99.86,187.43 L100.47,188.23 L101.08,189.02 L101.70,189.80 L102.33,190.58 L102.96,191.35 L103.60,192.12 L104.25,192.88 L104.91,193.64 L105.57,194.39 L106.23,195.14 L106.91,195.88 L107.59,196.61 L108.27,197.34 L108.97,198.06 L109.67,198.77 L110.37,199.48 L111.09,200.18 L111.81,200.87 L112.54,201.56 L113.27,202.24 L114.01,202.91 L114.76,203.57 L115.52,204.22 L116.28,204.87 L117.05,205.51 L117.83,206.14 L118.61,206.76 L119.41,207.37 L120.21,207.97 L121.01,208.56 L121.83,209.14 L122.65,209.71 L123.47,210.27 L124.31,210.82 L125.15,211.37 L125.99,211.90 L126.84,212.43 L127.70,212.94 L128.56,213.45 L129.43,213.95 L130.30,214.44 L131.18,214.92 L132.06,215.40 L132.94,215.87 L133.83,216.32 L134.72,216.78 L135.62,217.22 L136.52,217.65 L137.42,218.08 L138.33,218.50 L139.24,218.91 L140.16,219.31 L141.07,219.71 L142.00,220.10 L142.92,220.48 L143.85,220.85 L144.78,221.21 L145.72,221.57 L146.65,221.91 L147.60,222.25 L148.54,222.58 L149.49,222.91 L150.43,223.22 L151.39,223.53 L152.34,223.83 L153.30,224.12 L154.26,224.40 L155.22,224.67 L156.18,224.94 L157.15,225.20 L158.11,225.46 L159.08,225.70 L160.05,225.94 L161.03,226.18 L162.00,226.41 L162.98,226.63 L163.95,226.84 L164.93,227.05 L165.91,227.26 L166.89,227.46 L167.87,227.65 L168.85,227.84 L169.83,228.03 L170.82,228.21 L171.80,228.38 L172.79,228.55 L173.77,228.72 L174.76,228.89 L175.75,229.05 L176.73,229.21 L177.72,229.36 L178.71,229.51 L179.70,229.66 L180.69,229.81 L181.68,229.96 L182.67,230.10 L183.66,230.24 L184.65,230.38 L185.64,230.53 L186.62,230.68 L187.61,230.83 L188.60,230.99 L189.59,231.16 L190.57,231.33 L191.55,231.52 L192.54,231.71 L193.52,231.89 L194.50,232.07 L195.49,232.25 L196.47,232.40 L197.46,232.55 L198.46,232.67 L199.45,232.76 L200.45,232.84 L201.45,232.91 L202.44,232.97 L203.44,233.01 L204.44,233.06 L205.44,233.09 L206.44,233.13 L207.44,233.16 L208.44,233.18 L209.44,233.21 L210.44,233.23 L211.44,233.26 L212.44,233.28 L213.44,233.31 L214.44,233.33 L215.44,233.35 L216.44,233.37 L217.44,233.39 L218.44,233.41 L219.44,233.43 L220.44,233.44 L221.44,233.46 L222.44,233.47 L223.44,233.48 L224.44,233.49 L225.44,233.49 L226.44,233.49 L227.44,233.49 L228.44,233.49 L229.44,233.48 L230.44,233.47 L231.44,233.46 L232.44,233.44 L233.44,233.42 L234.44,233.40 L235.44,233.37 L236.44,233.34 L237.44,233.31 L238.43,233.28 L239.43,233.25 L240.43,233.21 L241.43,233.17 L242.43,233.13 L243.43,233.09 L244.43,233.05 L245.43,233.00 L246.43,232.96 L247.43,232.91 L248.43,232.87 L249.42,232.82 L250.42,232.77 L251.42,232.73 L252.42,232.68 L253.42,232.63 L254.42,232.58 L255.42,232.54 L256.42,232.49 L257.42,232.44 L258.41,232.39 L259.41,232.33 L260.41,232.28 L261.41,232.23 L262.41,232.17 L263.41,232.12 L264.41,232.06 L265.40,232.00 L266.40,231.94 L267.40,231.88 L268.40,231.82 L269.40,231.76 L270.39,231.69 L271.39,231.62 L272.39,231.56 L273.39,231.49 L274.38,231.41 L275.38,231.34 L276.38,231.27 L277.38,231.19 L278.37,231.12 L279.37,231.04 L280.37,230.96 L281.36,230.88 L282.36,230.80 L283.36,230.71 L284.35,230.63 L285.35,230.54 L286.35,230.46 L287.34,230.37 L288.34,230.28 L289.33,230.18 L290.33,230.09 L291.32,230.00 L292.32,229.90 L293.32,229.80 L294.31,229.71 L295.31,229.61 L296.30,229.51 L297.30,229.40 L298.29,229.30 L299.28,229.19 L300.28,229.09 L301.27,228.98 L302.27,228.87 L303.26,228.76 L304.25,228.65 L305.25,228.54 L306.24,228.42 L307.24,228.31 L308.23,228.19 L309.22,228.07 L310.21,227.95 L311.21,227.83 L312.20,227.71 L313.19,227.59 L314.18,227.47 L315.18,227.34 L316.17,227.22 L317.16,227.09 L318.15,226.96 L319.14,226.84 L320.14,226.71 L321.13,226.58 L322.12,226.45 L323.11,226.32 L324.10,226.19 L325.09,226.06 L326.09,225.93 L327.08,225.80 L328.07,225.66 L329.06,225.53 L330.05,225.40 L331.04,225.27 L332.03,225.13 L333.02,225.00 L334.01,224.87 L335.01,224.73 L336.00,224.60 L336.99,224.47 L337.98,224.33 L338.97,224.20 L339.96,224.07 L340.95,223.93 L341.94,223.80 L342.93,223.67 L343.93,223.54 L344.92,223.41 L345.91,223.28 L346.90,223.15 L347.89,223.01 L348.88,222.88 L349.87,222.75 L350.87,222.63 L351.86,222.50 L352.85,222.37 L353.84,222.24 L354.83,222.11 L355.82,221.98 L356.82,221.85 L357.81,221.72 L358.80,221.60 L359.79,221.47 L360.78,221.34 L361.78,221.21 L362.77,221.09 L363.76,220.96 L364.75,220.83 L365.74,220.71 L366.73,220.58 L367.73,220.45 L368.72,220.33 L369.71,220.20 L370.70,220.07 L371.69,219.95 L372.69,219.82 L373.68,219.69 L374.67,219.57 L375.66,219.44 L376.65,219.32 L377.65,219.19 L378.64,219.06 L379.63,218.94 L380.62,218.81 L381.61,218.69 L382.61,218.56 L383.60,218.43 L384.59,218.31 L385.58,218.18 L386.57,218.06 L387.57,217.93 L388.56,217.80 L389.55,217.68 L390.54,217.55 L391.53,217.42 L392.53,217.30 L393.52,217.17 L394.51,217.04 L395.50,216.92 L396.49,216.79 L397.49,216.66 L398.48,216.53 L399.47,216.40 L400.46,216.28 L401.45,216.15 L402.44,216.02 L403.44,215.89 L404.43,215.76 L405.42,215.63 L406.41,215.50 L407.40,215.37 L408.39,215.24 L409.39,215.11 L410.38,214.98 L411.37,214.85 L412.36,214.72 L413.35,214.59 L414.34,214.46 L415.33,214.33 L415.85,214.26"/><path stroke="#6685D9" d="M56.10,27.30 L56.24,28.29 L56.38,29.28 L56.52,30.27 L56.67,31.26 L56.81,32.25 L56.96,33.24 L57.10,34.23 L57.25,35.22 L57.40,36.21 L57.55,37.19 L57.70,38.18 L57.85,39.17 L58.01,40.16 L58.16,41.15 L58.32,42.14 L58.47,43.12 L58.63,44.11 L58.79,45.10 L58.95,46.08 L59.12,47.07 L59.28,48.06 L59.45,49.04 L59.61,50.03 L59.78,51.02 L59.95,52.00 L60.12,52.99 L60.29,53.97 L60.47,54.96 L60.64,55.94 L60.82,56.92 L61.00,57.91 L61.18,58.89 L61.36,59.88 L61.54,60.86 L61.72,61.84 L61.91,62.82 L62.10,63.81 L62.28,64.79 L62.47,65.77 L62.67,66.75 L62.86,67.73 L63.05,68.71 L63.25,69.70 L63.45,70.68 L63.65,71.66 L63.85,72.63 L64.05,73.61 L64.26,74.59 L64.46,75.57 L64.67,76.55 L64.88,77.53 L65.09,78.50 L65.30,79.48 L65.52,80.46 L65.73,81.44 L65.95,82.41 L66.17,83.39 L66.39,84.36 L66.62,85.34 L66.84,86.31 L67.07,87.28 L67.30,88.26 L67.53,89.23 L67.76,90.20 L68.00,91.18 L68.23,92.15 L68.47,93.12 L68.71,94.09 L68.95,95.06 L69.20,96.03 L69.44,97.00 L69.69,97.97 L69.94,98.94 L70.19,99.90 L70.45,100.87 L70.70,101.84 L70.96,102.80 L71.22,103.77 L71.48,104.73 L71.75,105.70 L72.01,106.66 L72.28,107.63 L72.55,108.59 L72.82,109.55 L73.10,110.51 L73.37,111.47 L73.65,112.43 L73.93,113.39 L74.21,114.35 L74.50,115.31 L74.79,116.27 L75.08,117.23 L75.37,118.18 L75.66,119.14 L75.96,120.09 L76.25,121.05 L76.55,122.00 L76.86,122.96 L77.16,123.91 L77.47,124.86 L77.78,125.81 L78.09,126.76 L78.40,127.71 L78.72,128.66 L79.04,129.61 L79.36,130.55 L79.68,131.50 L80.01,132.45 L80.34,133.39 L80.67,134.33 L81.00,135.28 L81.34,136.22 L81.67,137.16 L82.01,138.10 L82.36,139.04 L82.71,139.98 L83.06,140.91 L83.42,141.85 L83.78,142.78 L84.15,143.71 L84.52,144.64 L84.90,145.56 L85.29,146.48 L85.68,147.40 L86.08,148.32 L86.49,149.23 L86.91,150.14 L87.34,151.04 L87.77,151.94 L88.21,152.84 L88.66,153.74 L89.10,154.63 L89.56,155.52 L90.01,156.41 L90.47,157.30 L90.93,158.19 L91.39,159.08 L91.86,159.96 L92.32,160.85 L92.78,161.74 L93.24,162.63 L93.69,163.52 L94.15,164.41 L94.60,165.30 L95.06,166.19 L95.51,167.08 L95.97,167.97 L96.43,168.86 L96.89,169.75 L97.35,170.63 L97.82,171.51 L98.30,172.39 L98.78,173.27 L99.27,174.14 L99.77,175.01 L100.27,175.87 L100.79,176.73 L101.31,177.58 L101.84,178.43 L102.38,179.27 L102.93,180.11 L103.49,180.93 L104.06,181.76 L104.63,182.58 L105.21,183.39 L105.80,184.20 L106.40,185.00 L107.01,185.80 L107.62,186.59 L108.24,187.37 L108.86,188.15 L109.49,188.93 L110.13,189.70 L110.77,190.46 L111.43,191.22 L112.08,191.98 L112.74,192.73 L113.41,193.47 L114.08,194.21 L114.76,194.95 L115.44,195.68 L116.13,196.41 L116.82,197.13 L117.52,197.85 L118.22,198.56 L118.92,199.27 L119.63,199.97 L120.35,200.67 L121.06,201.37 L121.79,202.06 L122.51,202.75 L123.24,203.44 L123.97,204.11 L124.71,204.79 L125.46,205.46 L126.20,206.12 L126.96,206.78 L127.71,207.44 L128.47,208.08 L129.24,208.72 L130.01,209.36 L130.79,209.99 L131.57,210.61 L132.36,211.23 L133.15,211.84 L133.95,212.44 L134.76,213.03 L135.57,213.62 L136.38,214.20 L137.20,214.77 L138.03,215.33 L138.86,215.89 L139.70,216.43 L140.54,216.97 L141.39,217.50 L142.25,218.02 L143.11,218.52 L143.97,219.02 L144.85,219.52 L145.72,220.00 L146.60,220.47 L147.49,220.93 L148.38,221.39 L149.28,221.83 L150.18,222.27 L151.08,222.70 L151.99,223.12 L152.90,223.53 L153.81,223.93 L154.73,224.33 L155.65,224.72 L156.58,225.10 L157.51,225.47 L158.44,225.83 L159.37,226.19 L160.31,226.54 L161.25,226.88 L162.19,227.21 L163.14,227.54 L164.08,227.86 L165.04,228.17 L165.99,228.47 L166.94,228.77 L167.90,229.06 L168.86,229.34 L169.82,229.61 L170.79,229.88 L171.75,230.14 L172.72,230.39 L173.69,230.64 L174.66,230.88 L175.63,231.11 L176.61,231.34 L177.58,231.56 L178.56,231.77 L179.54,231.97 L180.52,232.17 L181.50,232.37 L182.48,232.55 L183.46,232.74 L184.45,232.92 L185.43,233.12 L186.41,233.32 L187.38,233.54 L188.35,233.77 L189.33,234.01 L190.30,234.24 L191.27,234.47 L192.25,234.70 L193.22,234.92 L194.20,235.13 L195.18,235.34 L196.16,235.54 L197.14,235.73 L198.12,235.91 L199.11,236.09 L200.09,236.25 L201.08,236.40 L202.07,236.54 L203.06,236.67 L204.06,236.79 L205.05,236.89 L206.04,236.99 L207.04,237.09 L208.04,237.17 L209.03,237.25 L210.03,237.33 L211.03,237.40 L212.02,237.48 L213.02,237.55 L214.02,237.62 L215.02,237.68 L216.02,237.74 L217.01,237.80 L218.01,237.86 L219.01,237.91 L220.01,237.97 L221.01,238.01 L222.01,238.06 L223.01,238.10 L224.01,238.14 L225.01,238.17 L226.00,238.21 L227.00,238.23 L228.00,238.26 L229.00,238.28 L230.00,238.29 L231.00,238.31 L232.00,238.31 L233.00,238.32 L234.00,238.32 L235.00,238.32 L236.00,238.31 L237.00,238.31 L238.00,238.29 L239.00,238.28 L240.00,238.26 L241.00,238.24 L242.00,238.22 L243.00,238.19 L244.00,238.17 L245.00,238.14 L246.00,238.10 L247.00,238.07 L248.00,238.03 L249.00,238.00 L250.00,237.96 L251.00,237.92 L252.00,237.87 L253.00,237.83 L253.99,237.79 L254.99,237.74 L255.99,237.69 L256.99,237.64 L257.99,237.59 L258.99,237.53 L259.99,237.48 L260.99,237.42 L261.98,237.36 L262.98,237.30 L263.98,237.24 L264.98,237.18 L265.98,237.11 L266.97,237.05 L267.97,236.98 L268.97,236.91 L269.97,236.84 L270.96,236.76 L271.96,236.69 L272.96,236.61 L273.95,236.53 L274.95,236.45 L275.95,236.37 L276.94,236.28 L277.94,236.20 L278.94,236.11 L279.93,236.02 L280.93,235.93 L281.92,235.84 L282.92,235.74 L283.92,235.65 L284.91,235.55 L285.91,235.45 L286.90,235.35 L287.90,235.25 L288.89,235.15 L289.88,235.04 L290.88,234.93 L291.87,234.83 L292.87,234.71 L293.86,234.60 L294.85,234.49 L295.85,234.37 L296.84,234.25 L297.83,234.13 L298.83,234.01 L299.82,233.89 L300.81,233.76 L301.80,233.63 L302.79,233.50 L303.78,233.37 L304.77,233.23 L305.77,233.10 L306.76,232.96 L307.75,232.82 L308.74,232.67 L309.72,232.53 L310.71,232.38 L311.70,232.23 L312.69,232.08 L313.68,231.93 L314.67,231.78 L315.66,231.63 L316.65,231.48 L317.63,231.33 L318.62,231.18 L319.61,231.03 L320.60,230.87 L321.59,230.72 L322.58,230.57 L323.57,230.43 L324.56,230.28 L325.54,230.13 L326.53,229.99 L327.52,229.85 L328.51,229.71 L329.50,229.57 L330.49,229.43 L331.48,229.29 L332.48,229.15 L333.47,229.01 L334.46,228.88 L335.45,228.74 L336.44,228.60 L337.43,228.47 L338.42,228.33 L339.41,228.19 L340.40,228.05 L341.39,227.91 L342.38,227.77 L343.37,227.63 L344.36,227.49 L345.35,227.34 L346.34,227.20 L347.33,227.05 L348.32,226.90 L349.30,226.75 L350.29,226.60 L351.28,226.45 L352.27,226.30 L353.26,226.15 L354.25,225.99 L355.23,225.84 L356.22,225.68 L357.21,225.53 L358.20,225.37 L359.19,225.21 L360.17,225.06 L361.16,224.90 L362.15,224.74 L363.13,224.58 L364.12,224.42 L365.11,224.26 L366.10,224.10 L367.08,223.93 L368.07,223.77 L369.06,223.61 L370.04,223.45 L371.03,223.29 L372.02,223.12 L373.00,222.96 L373.99,222.80 L374.98,222.63 L375.96,222.47 L376.95,222.31 L377.94,222.14 L378.92,221.98 L379.91,221.82 L380.90,221.66 L381.88,221.49 L382.87,221.33 L383.86,221.17 L384.84,221.01 L385.83,220.84 L386.82,220.68 L387.80,220.52 L388.79,220.36 L389.78,220.20 L390.76,220.04 L391.75,219.88 L392.74,219.72 L393.73,219.56 L394.71,219.39 L395.70,219.23 L396.69,219.07 L397.67,218.91 L398.66,218.75 L399.65,218.59 L400.63,218.43 L401.62,218.27 L402.61,218.11 L403.60,217.95 L404.58,217.79 L405.57,217.63 L406.56,217.47 L407.54,217.31 L408.53,217.15 L409.52,216.99 L410.51,216.83 L411.49,216.67 L412.48,216.51 L413.47,216.35 L414.45,216.19 L415.44,216.03 L415.85,215.96"/><path stroke="#F89F13" d="M60.90,27.30 L61.08,28.28 L61.26,29.27 L61.44,30.25 L61.63,31.23 L61.81,32.22 L61.99,33.20 L62.17,34.18 L62.36,35.17 L62.54,36.15 L62.73,37.13 L62.91,38.11 L63.09,39.10 L63.28,40.08 L63.47,41.06 L63.65,42.05 L63.84,43.03 L64.03,44.01 L64.22,44.99 L64.40,45.97 L64.59,46.96 L64.78,47.94 L64.98,48.92 L65.17,49.90 L65.36,50.88 L65.55,51.86 L65.75,52.84 L65.94,53.82 L66.14,54.81 L66.34,55.79 L66.53,56.77 L66.73,57.75 L66.93,58.73 L67.13,59.71 L67.33,60.69 L67.54,61.66 L67.74,62.64 L67.95,63.62 L68.15,64.60 L68.36,65.58 L68.57,66.56 L68.78,67.53 L68.99,68.51 L69.20,69.49 L69.42,70.47 L69.63,71.44 L69.85,72.42 L70.07,73.39 L70.29,74.37 L70.51,75.35 L70.73,76.32 L70.95,77.30 L71.18,78.27 L71.40,79.24 L71.63,80.22 L71.86,81.19 L72.09,82.16 L72.33,83.14 L72.56,84.11 L72.80,85.08 L73.04,86.05 L73.28,87.02 L73.52,87.99 L73.76,88.96 L74.01,89.93 L74.26,90.90 L74.50,91.87 L74.76,92.84 L75.01,93.80 L75.26,94.77 L75.52,95.74 L75.78,96.70 L76.04,97.67 L76.31,98.63 L76.57,99.60 L76.84,100.56 L77.11,101.52 L77.38,102.49 L77.65,103.45 L77.93,104.41 L78.21,105.37 L78.49,106.33 L78.77,107.29 L79.06,108.25 L79.35,109.20 L79.64,110.16 L79.93,111.12 L80.22,112.07 L80.52,113.03 L80.82,113.98 L81.13,114.93 L81.43,115.89 L81.74,116.84 L82.05,117.79 L82.36,118.74 L82.68,119.69 L83.00,120.63 L83.32,121.58 L83.64,122.53 L83.97,123.47 L84.30,124.42 L84.63,125.36 L84.96,126.30 L85.30,127.24 L85.64,128.18 L85.98,129.12 L86.33,130.06 L86.68,131.00 L87.03,131.93 L87.39,132.87 L87.75,133.80 L88.11,134.74 L88.47,135.67 L88.84,136.60 L89.21,137.53 L89.58,138.45 L89.96,139.38 L90.34,140.30 L90.72,141.23 L91.11,142.15 L91.50,143.07 L91.89,143.99 L92.29,144.91 L92.69,145.83 L93.09,146.74 L93.50,147.65 L93.91,148.57 L94.32,149.48 L94.74,150.39 L95.16,151.29 L95.58,152.20 L96.01,153.10 L96.44,154.01 L96.87,154.91 L97.31,155.81 L97.75,156.71 L98.19,157.60 L98.64,158.49 L99.09,159.39 L99.55,160.28 L100.01,161.16 L100.47,162.05 L100.94,162.93 L101.41,163.82 L101.89,164.70 L102.37,165.57 L102.85,166.45 L103.34,167.32 L103.83,168.19 L104.33,169.06 L104.83,169.93 L105.33,170.79 L105.84,171.65 L106.36,172.51 L106.87,173.36 L107.40,174.22 L107.92,175.07 L108.45,175.91 L108.99,176.76 L109.53,177.60 L110.07,178.44 L110.62,179.28 L111.17,180.11 L111.73,180.94 L112.29,181.77 L112.86,182.59 L113.43,183.41 L114.01,184.23 L114.59,185.04 L115.18,185.85 L115.77,186.66 L116.36,187.46 L116.96,188.26 L117.57,189.06 L118.18,189.85 L118.79,190.64 L119.41,191.42 L120.04,192.20 L120.67,192.98 L121.30,193.75 L121.94,194.52 L122.59,195.29 L123.24,196.05 L123.89,196.80 L124.55,197.55 L125.22,198.30 L125.89,199.04 L126.56,199.78 L127.24,200.51 L127.92,201.24 L128.61,201.97 L129.31,202.69 L130.01,203.40 L130.71,204.11 L131.43,204.81 L132.14,205.51 L132.86,206.21 L133.59,206.89 L134.32,207.57 L135.06,208.25 L135.80,208.92 L136.54,209.59 L137.30,210.24 L138.05,210.90 L138.82,211.54 L139.59,212.18 L140.36,212.82 L141.14,213.44 L141.93,214.06 L142.72,214.67 L143.51,215.28 L144.31,215.88 L145.12,216.47 L145.93,217.05 L146.75,217.62 L147.58,218.19 L148.41,218.75 L149.24,219.30 L150.08,219.84 L150.93,220.38 L151.78,220.90 L152.63,221.42 L153.50,221.92 L154.36,222.42 L155.23,222.91 L156.11,223.40 L156.99,223.87 L157.87,224.34 L158.76,224.80 L159.65,225.25 L160.55,225.69 L161.45,226.13 L162.35,226.56 L163.26,226.98 L164.17,227.40 L165.08,227.81 L165.99,228.21 L166.91,228.61 L167.83,229.00 L168.76,229.39 L169.68,229.77 L170.61,230.14 L171.54,230.51 L172.47,230.88 L173.40,231.23 L174.34,231.59 L175.27,231.94 L176.21,232.28 L177.15,232.63 L178.09,232.97 L179.03,233.30 L179.98,233.64 L180.92,233.97 L181.86,234.30 L182.81,234.63 L183.75,234.96 L184.70,235.28 L185.64,235.61 L186.59,235.94 L187.53,236.27 L188.48,236.59 L189.42,236.91 L190.37,237.23 L191.32,237.54 L192.28,237.84 L193.23,238.13 L194.19,238.41 L195.16,238.68 L196.12,238.93 L197.09,239.18 L198.07,239.41 L199.04,239.63 L200.02,239.83 L201.00,240.03 L201.98,240.22 L202.97,240.40 L203.95,240.57 L204.94,240.74 L205.93,240.89 L206.92,241.04 L207.91,241.18 L208.90,241.32 L209.89,241.45 L210.88,241.57 L211.87,241.69 L212.87,241.81 L213.86,241.92 L214.85,242.04 L215.85,242.14 L216.84,242.25 L217.84,242.35 L218.83,242.45 L219.83,242.54 L220.82,242.63 L221.82,242.72 L222.82,242.80 L223.81,242.88 L224.81,242.96 L225.81,243.03 L226.81,243.10 L227.80,243.16 L228.80,243.22 L229.80,243.27 L230.80,243.32 L231.80,243.37 L232.80,243.41 L233.80,243.44 L234.80,243.47 L235.80,243.49 L236.80,243.51 L237.80,243.53 L238.80,243.54 L239.80,243.55 L240.80,243.55 L241.80,243.55 L242.80,243.54 L243.80,243.53 L244.80,243.52 L245.80,243.51 L246.79,243.49 L247.79,243.47 L248.79,243.44 L249.79,243.42 L250.79,243.39 L251.79,243.35 L252.79,243.32 L253.79,243.29 L254.79,243.25 L255.79,243.21 L256.79,243.17 L257.79,243.12 L258.79,243.08 L259.79,243.03 L260.79,242.98 L261.78,242.93 L262.78,242.88 L263.78,242.82 L264.78,242.77 L265.78,242.71 L266.78,242.64 L267.77,242.58 L268.77,242.51 L269.77,242.44 L270.77,242.37 L271.76,242.29 L272.76,242.21 L273.76,242.13 L274.75,242.05 L275.75,241.96 L276.75,241.87 L277.74,241.78 L278.74,241.68 L279.73,241.59 L280.73,241.49 L281.72,241.39 L282.72,241.28 L283.71,241.17 L284.70,241.07 L285.70,240.95 L286.69,240.84 L287.69,240.72 L288.68,240.61 L289.67,240.48 L290.66,240.36 L291.66,240.24 L292.65,240.11 L293.64,239.98 L294.63,239.85 L295.62,239.71 L296.61,239.58 L297.60,239.44 L298.59,239.30 L299.58,239.16 L300.57,239.02 L301.56,238.87 L302.55,238.72 L303.54,238.57 L304.53,238.42 L305.52,238.27 L306.50,238.11 L307.49,237.96 L308.48,237.80 L309.47,237.64 L310.45,237.47 L311.44,237.31 L312.43,237.15 L313.41,236.98 L314.40,236.81 L315.38,236.64 L316.37,236.47 L317.35,236.30 L318.34,236.13 L319.32,235.95 L320.31,235.78 L321.29,235.61 L322.28,235.43 L323.26,235.26 L324.25,235.08 L325.23,234.91 L326.22,234.73 L327.20,234.56 L328.18,234.38 L329.17,234.21 L330.15,234.03 L331.14,233.86 L332.12,233.69 L333.11,233.51 L334.09,233.34 L335.08,233.17 L336.06,233.00 L337.05,232.82 L338.03,232.65 L339.02,232.48 L340.00,232.31 L340.99,232.13 L341.97,231.96 L342.96,231.79 L343.94,231.61 L344.93,231.44 L345.91,231.26 L346.90,231.08 L347.88,230.90 L348.86,230.73 L349.85,230.55 L350.83,230.37 L351.81,230.18 L352.80,230.00 L353.78,229.82 L354.76,229.64 L355.75,229.45 L356.73,229.27 L357.71,229.08 L358.70,228.90 L359.68,228.71 L360.66,228.52 L361.64,228.33 L362.62,228.15 L363.61,227.96 L364.59,227.77 L365.57,227.58 L366.55,227.39 L367.53,227.20 L368.52,227.01 L369.50,226.82 L370.48,226.63 L371.46,226.43 L372.44,226.24 L373.42,226.05 L374.40,225.86 L375.38,225.66 L376.37,225.47 L377.35,225.28 L378.33,225.08 L379.31,224.89 L380.29,224.70 L381.27,224.50 L382.25,224.31 L383.23,224.11 L384.21,223.92 L385.20,223.73 L386.18,223.53 L387.16,223.34 L388.14,223.14 L389.12,222.95 L390.10,222.76 L391.08,222.56 L392.06,222.37 L393.04,222.18 L394.03,221.98 L395.01,221.79 L395.99,221.60 L396.97,221.41 L397.95,221.22 L398.93,221.02 L399.91,220.83 L400.90,220.64 L401.88,220.45 L402.86,220.26 L403.84,220.07 L404.82,219.88 L405.80,219.69 L406.79,219.51 L407.77,219.32 L408.75,219.13 L409.73,218.94 L410.72,218.76 L411.70,218.57 L412.68,218.39 L413.66,218.20 L414.65,218.02 L415.63,217.84 L415.86,217.80"/><path stroke="#BC5B80" d="M66.00,27.30 L66.20,28.28 L66.39,29.26 L66.59,30.24 L66.79,31.22 L66.99,32.20 L67.19,33.18 L67.39,34.16 L67.59,35.14 L67.79,36.12 L67.99,37.10 L68.20,38.08 L68.40,39.06 L68.60,40.04 L68.81,41.02 L69.02,41.99 L69.22,42.97 L69.43,43.95 L69.64,44.93 L69.85,45.91 L70.06,46.88 L70.27,47.86 L70.48,48.84 L70.69,49.82 L70.91,50.79 L71.12,51.77 L71.34,52.75 L71.55,53.72 L71.77,54.70 L71.99,55.67 L72.21,56.65 L72.43,57.62 L72.65,58.60 L72.88,59.57 L73.10,60.55 L73.33,61.52 L73.55,62.50 L73.78,63.47 L74.01,64.44 L74.24,65.42 L74.47,66.39 L74.70,67.36 L74.94,68.34 L75.17,69.31 L75.41,70.28 L75.65,71.25 L75.89,72.22 L76.13,73.19 L76.37,74.16 L76.62,75.13 L76.86,76.10 L77.11,77.07 L77.36,78.04 L77.61,79.01 L77.86,79.97 L78.11,80.94 L78.37,81.91 L78.63,82.87 L78.88,83.84 L79.14,84.81 L79.40,85.77 L79.67,86.74 L79.93,87.70 L80.20,88.66 L80.47,89.63 L80.74,90.59 L81.01,91.55 L81.28,92.51 L81.56,93.48 L81.84,94.44 L82.12,95.40 L82.40,96.36 L82.68,97.32 L82.97,98.27 L83.25,99.23 L83.54,100.19 L83.83,101.15 L84.13,102.10 L84.42,103.06 L84.72,104.01 L85.02,104.97 L85.32,105.92 L85.62,106.87 L85.93,107.82 L86.24,108.78 L86.55,109.73 L86.86,110.68 L87.17,111.63 L87.49,112.57 L87.81,113.52 L88.13,114.47 L88.45,115.42 L88.78,116.36 L89.11,117.31 L89.44,118.25 L89.77,119.19 L90.11,120.13 L90.44,121.08 L90.78,122.02 L91.13,122.96 L91.47,123.89 L91.82,124.83 L92.17,125.77 L92.52,126.71 L92.88,127.64 L93.23,128.57 L93.59,129.51 L93.96,130.44 L94.32,131.37 L94.69,132.30 L95.06,133.23 L95.43,134.16 L95.81,135.08 L96.19,136.01 L96.57,136.93 L96.95,137.86 L97.34,138.78 L97.73,139.70 L98.12,140.62 L98.51,141.54 L98.91,142.46 L99.31,143.37 L99.71,144.29 L100.12,145.20 L100.53,146.11 L100.94,147.03 L101.36,147.94 L101.77,148.84 L102.19,149.75 L102.62,150.66 L103.04,151.56 L103.47,152.47 L103.90,153.37 L104.34,154.27 L104.78,155.17 L105.22,156.06 L105.67,156.96 L106.11,157.85 L106.56,158.75 L107.02,159.64 L107.48,160.52 L107.94,161.41 L108.40,162.30 L108.87,163.18 L109.34,164.06 L109.82,164.94 L110.30,165.82 L110.78,166.70 L111.26,167.57 L111.75,168.44 L112.24,169.31 L112.74,170.18 L113.24,171.05 L113.74,171.91 L114.25,172.77 L114.76,173.63 L115.28,174.49 L115.80,175.35 L116.32,176.20 L116.85,177.05 L117.38,177.90 L117.91,178.74 L118.45,179.58 L118.99,180.42 L119.54,181.26 L120.09,182.10 L120.64,182.93 L121.20,183.76 L121.76,184.58 L122.33,185.41 L122.90,186.23 L123.48,187.05 L124.06,187.86 L124.64,188.67 L125.23,189.48 L125.82,190.29 L126.42,191.09 L127.02,191.89 L127.63,192.68 L128.24,193.48 L128.85,194.27 L129.47,195.05 L130.10,195.83 L130.72,196.61 L131.36,197.38 L132.00,198.15 L132.64,198.92 L133.29,199.68 L133.94,200.44 L134.60,201.19 L135.26,201.94 L135.93,202.68 L136.61,203.42 L137.28,204.15 L137.97,204.88 L138.66,205.61 L139.35,206.33 L140.05,207.04 L140.75,207.75 L141.46,208.46 L142.18,209.16 L142.90,209.85 L143.62,210.54 L144.35,211.23 L145.09,211.90 L145.83,212.58 L146.57,213.24 L147.32,213.91 L148.08,214.56 L148.84,215.21 L149.60,215.86 L150.37,216.50 L151.14,217.13 L151.92,217.75 L152.71,218.37 L153.50,218.99 L154.29,219.60 L155.09,220.20 L155.89,220.80 L156.70,221.39 L157.51,221.97 L158.32,222.55 L159.14,223.12 L159.97,223.69 L160.80,224.25 L161.63,224.81 L162.46,225.36 L163.30,225.90 L164.15,226.44 L164.99,226.97 L165.84,227.49 L166.70,228.01 L167.56,228.53 L168.42,229.04 L169.28,229.54 L170.15,230.03 L171.02,230.52 L171.90,231.01 L172.77,231.49 L173.66,231.96 L174.54,232.43 L175.43,232.89 L176.32,233.35 L177.21,233.80 L178.10,234.24 L179.00,234.68 L179.90,235.11 L180.81,235.54 L181.72,235.96 L182.63,236.37 L183.54,236.78 L184.46,237.18 L185.37,237.58 L186.30,237.97 L187.22,238.35 L188.15,238.73 L189.08,239.10 L190.01,239.46 L190.94,239.82 L191.88,240.17 L192.82,240.51 L193.76,240.85 L194.70,241.18 L195.65,241.50 L196.60,241.82 L197.55,242.13 L198.50,242.43 L199.46,242.72 L200.41,243.01 L201.37,243.30 L202.33,243.57 L203.30,243.84 L204.26,244.10 L205.23,244.36 L206.20,244.61 L207.17,244.85 L208.14,245.09 L209.11,245.32 L210.09,245.54 L211.06,245.76 L212.04,245.97 L213.02,246.17 L214.00,246.37 L214.98,246.56 L215.97,246.74 L216.95,246.92 L217.93,247.09 L218.92,247.26 L219.91,247.42 L220.90,247.57 L221.89,247.72 L222.88,247.86 L223.87,247.99 L224.86,248.12 L225.85,248.24 L226.84,248.36 L227.84,248.46 L228.83,248.57 L229.83,248.67 L230.82,248.76 L231.82,248.84 L232.82,248.92 L233.81,248.99 L234.81,249.06 L235.81,249.12 L236.81,249.18 L237.81,249.23 L238.81,249.27 L239.81,249.31 L240.81,249.35 L241.81,249.38 L242.80,249.40 L243.80,249.42 L244.80,249.43 L245.80,249.44 L246.80,249.45 L247.80,249.45 L248.80,249.45 L249.80,249.44 L250.80,249.43 L251.80,249.41 L252.80,249.39 L253.80,249.37 L254.80,249.35 L255.80,249.32 L256.80,249.28 L257.80,249.25 L258.80,249.21 L259.80,249.16 L260.80,249.12 L261.80,249.07 L262.80,249.02 L263.79,248.96 L264.79,248.90 L265.79,248.83 L266.79,248.77 L267.79,248.70 L268.78,248.62 L269.78,248.55 L270.78,248.46 L271.77,248.38 L272.77,248.29 L273.77,248.20 L274.76,248.11 L275.76,248.01 L276.75,247.91 L277.75,247.80 L278.74,247.70 L279.73,247.59 L280.73,247.47 L281.72,247.36 L282.71,247.24 L283.71,247.12 L284.70,246.99 L285.69,246.87 L286.68,246.74 L287.67,246.60 L288.66,246.47 L289.65,246.33 L290.64,246.19 L291.63,246.05 L292.62,245.90 L293.61,245.76 L294.60,245.61 L295.59,245.45 L296.58,245.30 L297.57,245.14 L298.55,244.98 L299.54,244.82 L300.53,244.66 L301.51,244.50 L302.50,244.33 L303.48,244.16 L304.47,243.99 L305.46,243.82 L306.44,243.65 L307.42,243.47 L308.41,243.30 L309.39,243.12 L310.38,242.94 L311.36,242.76 L312.34,242.57 L313.33,242.39 L314.31,242.20 L315.29,242.02 L316.27,241.83 L317.26,241.64 L318.24,241.45 L319.22,241.26 L320.20,241.06 L321.18,240.87 L322.16,240.67 L323.14,240.47 L324.12,240.28 L325.10,240.08 L326.08,239.88 L327.06,239.68 L328.04,239.47 L329.02,239.27 L330.00,239.07 L330.98,238.86 L331.96,238.66 L332.93,238.45 L333.91,238.24 L334.89,238.03 L335.87,237.82 L336.85,237.61 L337.82,237.40 L338.80,237.19 L339.78,236.98 L340.76,236.77 L341.73,236.56 L342.71,236.34 L343.69,236.13 L344.66,235.91 L345.64,235.70 L346.62,235.48 L347.59,235.27 L348.57,235.05 L349.54,234.83 L350.52,234.62 L351.50,234.40 L352.47,234.18 L353.45,233.96 L354.42,233.74 L355.40,233.52 L356.38,233.30 L357.35,233.08 L358.33,232.86 L359.30,232.64 L360.28,232.42 L361.25,232.20 L362.23,231.98 L363.20,231.76 L364.18,231.54 L365.15,231.32 L366.13,231.09 L367.10,230.87 L368.08,230.65 L369.05,230.43 L370.03,230.20 L371.00,229.98 L371.98,229.76 L372.95,229.53 L373.93,229.31 L374.90,229.08 L375.88,228.86 L376.85,228.64 L377.82,228.41 L378.80,228.19 L379.77,227.96 L380.75,227.74 L381.72,227.51 L382.70,227.29 L383.67,227.06 L384.65,226.84 L385.62,226.62 L386.60,226.39 L387.57,226.17 L388.54,225.94 L389.52,225.72 L390.49,225.49 L391.47,225.27 L392.44,225.04 L393.42,224.82 L394.39,224.60 L395.37,224.37 L396.34,224.15 L397.31,223.92 L398.29,223.70 L399.26,223.48 L400.24,223.25 L401.21,223.03 L402.19,222.81 L403.16,222.58 L404.14,222.36 L405.11,222.14 L406.09,221.91 L407.06,221.69 L408.04,221.47 L409.01,221.25 L409.99,221.03 L410.96,220.81 L411.94,220.59 L412.91,220.36 L413.89,220.14 L414.87,219.92 L415.84,219.71 L415.85,219.70"/><path stroke="#47B66D" d="M71.50,27.30 L71.72,28.28 L71.94,29.25 L72.16,30.23 L72.38,31.20 L72.61,32.18 L72.83,33.15 L73.05,34.13 L73.27,35.10 L73.50,36.08 L73.72,37.05 L73.94,38.02 L74.17,39.00 L74.39,39.97 L74.62,40.95 L74.85,41.92 L75.07,42.90 L75.30,43.87 L75.53,44.84 L75.76,45.82 L75.99,46.79 L76.22,47.76 L76.45,48.74 L76.68,49.71 L76.91,50.68 L77.15,51.65 L77.38,52.63 L77.61,53.60 L77.85,54.57 L78.09,55.54 L78.32,56.51 L78.56,57.48 L78.80,58.46 L79.04,59.43 L79.28,60.40 L79.52,61.37 L79.77,62.34 L80.01,63.31 L80.26,64.28 L80.50,65.25 L80.75,66.21 L81.00,67.18 L81.25,68.15 L81.50,69.12 L81.75,70.09 L82.00,71.05 L82.26,72.02 L82.51,72.99 L82.77,73.96 L83.03,74.92 L83.29,75.89 L83.55,76.85 L83.81,77.82 L84.07,78.78 L84.34,79.75 L84.61,80.71 L84.87,81.67 L85.14,82.64 L85.41,83.60 L85.69,84.56 L85.96,85.52 L86.23,86.48 L86.51,87.45 L86.79,88.41 L87.07,89.37 L87.35,90.33 L87.64,91.28 L87.92,92.24 L88.21,93.20 L88.50,94.16 L88.79,95.11 L89.08,96.07 L89.37,97.03 L89.67,97.98 L89.97,98.94 L90.27,99.89 L90.57,100.84 L90.87,101.80 L91.18,102.75 L91.48,103.70 L91.79,104.65 L92.10,105.60 L92.42,106.55 L92.73,107.50 L93.05,108.45 L93.37,109.40 L93.69,110.34 L94.01,111.29 L94.34,112.24 L94.67,113.18 L95.00,114.13 L95.33,115.07 L95.66,116.01 L96.00,116.95 L96.34,117.89 L96.68,118.83 L97.02,119.77 L97.37,120.71 L97.72,121.65 L98.07,122.59 L98.42,123.52 L98.78,124.46 L99.13,125.39 L99.49,126.32 L99.86,127.25 L100.22,128.19 L100.59,129.12 L100.96,130.04 L101.33,130.97 L101.71,131.90 L102.08,132.83 L102.46,133.75 L102.85,134.67 L103.23,135.60 L103.62,136.52 L104.01,137.44 L104.40,138.36 L104.80,139.28 L105.20,140.19 L105.60,141.11 L106.00,142.02 L106.41,142.94 L106.82,143.85 L107.23,144.76 L107.65,145.67 L108.07,146.58 L108.49,147.49 L108.91,148.39 L109.34,149.30 L109.77,150.20 L110.20,151.10 L110.64,152.00 L111.08,152.90 L111.52,153.80 L111.96,154.69 L112.41,155.59 L112.86,156.48 L113.32,157.37 L113.77,158.26 L114.23,159.15 L114.70,160.03 L115.16,160.92 L115.63,161.80 L116.11,162.68 L116.58,163.56 L117.06,164.44 L117.54,165.31 L118.03,166.19 L118.52,167.06 L119.01,167.93 L119.51,168.80 L120.01,169.67 L120.51,170.53 L121.01,171.39 L121.52,172.25 L122.04,173.11 L122.55,173.97 L123.07,174.82 L123.60,175.67 L124.12,176.52 L124.65,177.37 L125.19,178.22 L125.73,179.06 L126.27,179.90 L126.81,180.74 L127.36,181.57 L127.92,182.41 L128.48,183.24 L129.04,184.06 L129.61,184.89 L130.18,185.71 L130.75,186.52 L131.33,187.34 L131.92,188.15 L132.51,188.95 L133.11,189.76 L133.71,190.56 L134.31,191.35 L134.92,192.15 L135.54,192.93 L136.15,193.72 L136.77,194.51 L137.40,195.29 L138.02,196.07 L138.65,196.85 L139.27,197.63 L139.90,198.41 L140.53,199.19 L141.15,199.97 L141.78,200.75 L142.41,201.53 L143.03,202.31 L143.66,203.09 L144.28,203.87 L144.90,204.65 L145.53,205.43 L146.15,206.21 L146.78,206.99 L147.41,207.77 L148.04,208.54 L148.67,209.32 L149.31,210.09 L149.95,210.86 L150.59,211.63 L151.24,212.39 L151.89,213.15 L152.55,213.90 L153.21,214.65 L153.87,215.40 L154.54,216.14 L155.22,216.88 L155.91,217.60 L156.60,218.33 L157.29,219.04 L158.00,219.75 L158.71,220.46 L159.43,221.15 L160.16,221.83 L160.90,222.51 L161.64,223.18 L162.40,223.83 L163.16,224.48 L163.93,225.11 L164.71,225.74 L165.50,226.36 L166.29,226.96 L167.09,227.56 L167.90,228.15 L168.71,228.74 L169.53,229.31 L170.35,229.88 L171.18,230.44 L172.02,231.00 L172.85,231.54 L173.69,232.09 L174.53,232.62 L175.38,233.16 L176.23,233.68 L177.08,234.21 L177.94,234.73 L178.79,235.24 L179.65,235.76 L180.51,236.27 L181.37,236.78 L182.23,237.28 L183.10,237.79 L183.96,238.29 L184.82,238.80 L185.69,239.29 L186.56,239.79 L187.43,240.28 L188.31,240.77 L189.18,241.25 L190.06,241.72 L190.94,242.19 L191.83,242.66 L192.72,243.11 L193.61,243.56 L194.51,244.00 L195.41,244.43 L196.32,244.85 L197.23,245.26 L198.15,245.67 L199.07,246.06 L200.00,246.44 L200.92,246.80 L201.86,247.16 L202.79,247.51 L203.74,247.85 L204.68,248.18 L205.63,248.50 L206.58,248.82 L207.53,249.12 L208.48,249.42 L209.44,249.71 L210.40,249.99 L211.36,250.26 L212.33,250.53 L213.29,250.79 L214.26,251.05 L215.23,251.30 L216.20,251.54 L217.17,251.78 L218.14,252.02 L219.11,252.25 L220.08,252.48 L221.06,252.70 L222.04,252.91 L223.01,253.12 L223.99,253.33 L224.97,253.53 L225.95,253.72 L226.94,253.91 L227.92,254.08 L228.91,254.25 L229.89,254.42 L230.88,254.57 L231.87,254.72 L232.86,254.86 L233.85,254.98 L234.85,255.10 L235.84,255.21 L236.83,255.31 L237.83,255.41 L238.83,255.49 L239.82,255.57 L240.82,255.63 L241.82,255.69 L242.82,255.75 L243.82,255.80 L244.82,255.84 L245.82,255.87 L246.81,255.90 L247.81,255.92 L248.81,255.94 L249.81,255.96 L250.81,255.97 L251.81,255.97 L252.81,255.97 L253.81,255.97 L254.81,255.96 L255.81,255.96 L256.81,255.94 L257.81,255.93 L258.81,255.91 L259.81,255.88 L260.81,255.85 L261.81,255.82 L262.81,255.78 L263.81,255.74 L264.81,255.69 L265.81,255.64 L266.81,255.58 L267.80,255.51 L268.80,255.44 L269.80,255.36 L270.79,255.28 L271.79,255.19 L272.79,255.09 L273.78,254.99 L274.77,254.88 L275.77,254.76 L276.76,254.65 L277.75,254.52 L278.75,254.39 L279.74,254.26 L280.73,254.13 L281.72,253.99 L282.71,253.84 L283.70,253.70 L284.69,253.55 L285.67,253.40 L286.66,253.25 L287.65,253.09 L288.64,252.93 L289.62,252.77 L290.61,252.61 L291.60,252.45 L292.59,252.29 L293.57,252.12 L294.56,251.96 L295.54,251.79 L296.53,251.62 L297.52,251.45 L298.50,251.28 L299.48,251.11 L300.47,250.93 L301.45,250.75 L302.44,250.57 L303.42,250.39 L304.40,250.21 L305.39,250.02 L306.37,249.83 L307.35,249.64 L308.33,249.45 L309.31,249.25 L310.29,249.05 L311.27,248.85 L312.25,248.65 L313.23,248.44 L314.21,248.23 L315.18,248.02 L316.16,247.81 L317.14,247.59 L318.11,247.37 L319.09,247.15 L320.06,246.93 L321.04,246.71 L322.01,246.48 L322.99,246.25 L323.96,246.02 L324.93,245.79 L325.90,245.56 L326.88,245.33 L327.85,245.09 L328.82,244.85 L329.79,244.61 L330.76,244.37 L331.73,244.13 L332.70,243.89 L333.67,243.64 L334.64,243.40 L335.61,243.15 L336.58,242.90 L337.55,242.65 L338.52,242.41 L339.48,242.15 L340.45,241.90 L341.42,241.65 L342.39,241.40 L343.36,241.15 L344.32,240.89 L345.29,240.64 L346.26,240.39 L347.22,240.13 L348.19,239.88 L349.16,239.62 L350.12,239.37 L351.09,239.11 L352.06,238.86 L353.02,238.60 L353.99,238.34 L354.96,238.09 L355.92,237.83 L356.89,237.57 L357.86,237.31 L358.82,237.06 L359.79,236.80 L360.76,236.54 L361.72,236.28 L362.69,236.02 L363.65,235.76 L364.62,235.51 L365.59,235.25 L366.55,234.99 L367.52,234.73 L368.48,234.47 L369.45,234.21 L370.41,233.95 L371.38,233.69 L372.34,233.43 L373.31,233.17 L374.28,232.91 L375.24,232.65 L376.21,232.39 L377.17,232.13 L378.14,231.87 L379.10,231.61 L380.07,231.35 L381.03,231.09 L382.00,230.82 L382.97,230.56 L383.93,230.30 L384.90,230.04 L385.86,229.78 L386.83,229.52 L387.79,229.26 L388.76,229.00 L389.72,228.74 L390.69,228.48 L391.65,228.22 L392.62,227.96 L393.59,227.70 L394.55,227.44 L395.52,227.18 L396.48,226.92 L397.45,226.66 L398.41,226.40 L399.38,226.14 L400.35,225.88 L401.31,225.62 L402.28,225.37 L403.24,225.11 L404.21,224.85 L405.18,224.59 L406.14,224.33 L407.11,224.07 L408.07,223.82 L409.04,223.56 L410.01,223.30 L410.97,223.05 L411.94,222.79 L412.91,222.53 L413.87,222.28 L414.84,222.02 L415.81,221.77 L415.85,221.75"/></g><g stroke="#000" stroke-width="2.5" fill="none"><path d="M24.6,203.4L416,201.95"/><path d="M220.55,27V268.7" stroke-width="2.8"/></g></svg>
<div style="position:absolute;left:0;top:0;width:436px;height:292px;will-change:transform;"><div style="position:absolute;top:272.0px;height:20px;line-height:20px;font-size:14.5px;font-weight:bold;white-space:nowrap;transform:scaleY(1.055);transform-origin:50% 15px;left:72.0px;width:60px;text-align:center;">0.2</div><div style="position:absolute;top:272.0px;height:20px;line-height:20px;font-size:14.5px;font-weight:bold;white-space:nowrap;transform:scaleY(1.055);transform-origin:50% 15px;left:150.2px;width:60px;text-align:center;">0.4</div><div style="position:absolute;top:272.0px;height:20px;line-height:20px;font-size:14.5px;font-weight:bold;white-space:nowrap;transform:scaleY(1.055);transform-origin:50% 15px;left:228.5px;width:60px;text-align:center;">0.6</div><div style="position:absolute;top:272.0px;height:20px;line-height:20px;font-size:14.5px;font-weight:bold;white-space:nowrap;transform:scaleY(1.055);transform-origin:50% 15px;left:306.8px;width:60px;text-align:center;">0.8</div><div style="position:absolute;top:272.0px;height:20px;line-height:20px;font-size:14.5px;font-weight:bold;white-space:nowrap;transform:scaleY(1.055);transform-origin:50% 15px;left:385.0px;width:60px;text-align:center;"><span style="visibility:hidden">1</span>.0</div><div style="position:absolute;top:253.7px;height:20px;line-height:20px;font-size:14.5px;font-weight:bold;white-space:nowrap;transform:scaleY(1.055);transform-origin:50% 15px;left:-39.8px;width:60px;text-align:right;">0.8</div><div style="position:absolute;top:194.7px;height:20px;line-height:20px;font-size:14.5px;font-weight:bold;white-space:nowrap;transform:scaleY(1.055);transform-origin:50% 15px;left:-39.8px;width:60px;text-align:right;"><span style="visibility:hidden">1</span>.0</div><div style="position:absolute;top:135.7px;height:20px;line-height:20px;font-size:14.5px;font-weight:bold;white-space:nowrap;transform:scaleY(1.055);transform-origin:50% 15px;left:-39.8px;width:60px;text-align:right;"><span style="visibility:hidden">1</span>.2</div><div style="position:absolute;top:76.7px;height:20px;line-height:20px;font-size:14.5px;font-weight:bold;white-space:nowrap;transform:scaleY(1.055);transform-origin:50% 15px;left:-39.8px;width:60px;text-align:right;"><span style="visibility:hidden">1</span>.4</div><div style="position:absolute;top:17.7px;height:20px;line-height:20px;font-size:14.5px;font-weight:bold;white-space:nowrap;transform:scaleY(1.055);transform-origin:50% 15px;left:-39.8px;width:60px;text-align:right;"><span style="visibility:hidden">1</span>.6</div><div style="position:absolute;top:0.4px;height:20px;line-height:20px;font-size:14.5px;font-weight:bold;white-space:nowrap;transform:scaleY(1.055);transform-origin:50% 15px;font-style:italic;left:-6.4px;width:60px;text-align:center;">m</div><div style="position:absolute;top:258.8px;height:20px;line-height:20px;font-size:14.5px;font-weight:bold;white-space:nowrap;transform:scaleY(1.055);transform-origin:50% 15px;font-style:italic;left:425.5px;text-align:left;">n</div><svg width="436" height="292" style="position:absolute;left:0;top:0" fill="#000"><path transform="translate(404.92,287.00) scale(0.007080,-0.007080)" d="M806 0H525V1059Q371 915 162 846V1101Q272 1137 401 1237.5Q530 1338 578 1472H806Z"/><path transform="translate(0.05,209.70) scale(0.007080,-0.007080)" d="M806 0H525V1059Q371 915 162 846V1101Q272 1137 401 1237.5Q530 1338 578 1472H806Z"/><path transform="translate(0.05,150.70) scale(0.007080,-0.007080)" d="M806 0H525V1059Q371 915 162 846V1101Q272 1137 401 1237.5Q530 1338 578 1472H806Z"/><path transform="translate(0.05,91.70) scale(0.007080,-0.007080)" d="M806 0H525V1059Q371 915 162 846V1101Q272 1137 401 1237.5Q530 1338 578 1472H806Z"/><path transform="translate(0.05,32.70) scale(0.007080,-0.007080)" d="M806 0H525V1059Q371 915 162 846V1101Q272 1137 401 1237.5Q530 1338 578 1472H806Z"/></svg></div>
</body></html>
